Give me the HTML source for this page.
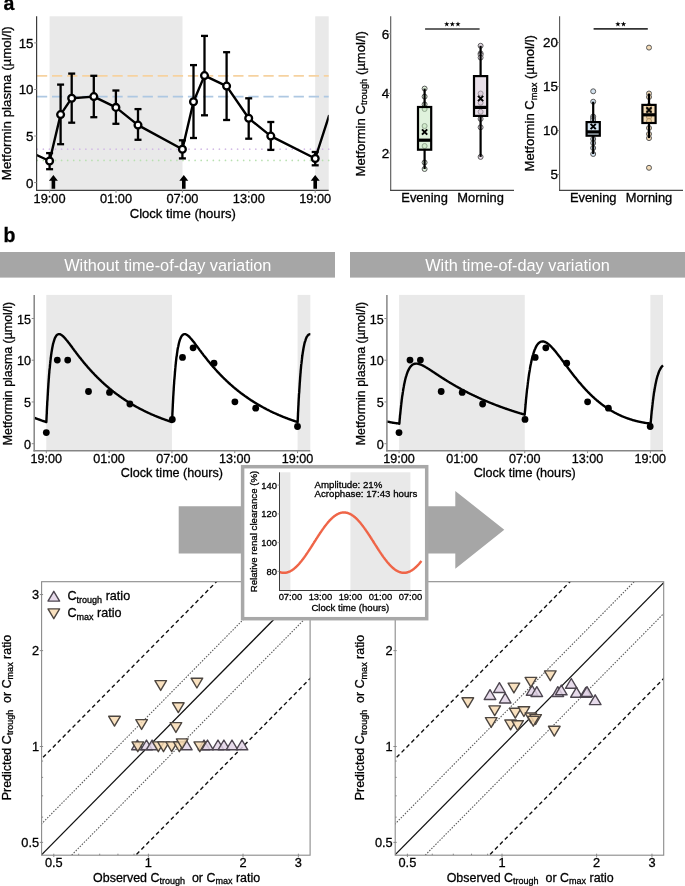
<!DOCTYPE html>
<html><head><meta charset="utf-8"><style>
html,body{margin:0;padding:0;background:#fff;overflow:hidden;}
svg{display:block;will-change:transform;}
text{font-family:"Liberation Sans",sans-serif;stroke:#000;stroke-width:0.3px;}
.w{stroke:none;}
</style></head><body>
<svg width="685" height="886" viewBox="0 0 685 886" font-family="Liberation Sans, sans-serif">
<text x="3.6" y="10" font-size="19.5" font-weight="bold">a</text>
<text x="3.6" y="241.6" font-size="19.5" font-weight="bold">b</text>
<rect x="49.60" y="16.30" width="132.90" height="174.00" fill="#e9e9e9" />
<rect x="315.20" y="16.30" width="13.50" height="174.00" fill="#e9e9e9" />
<line x1="36.60" y1="75.90" x2="328.70" y2="75.90" stroke="#f6d2a0" stroke-width="1.7" stroke-dasharray="10.3 4.8" stroke-dashoffset="-0.3"/>
<line x1="36.60" y1="96.60" x2="328.70" y2="96.60" stroke="#aec8e2" stroke-width="1.7" stroke-dasharray="10.3 4.8" stroke-dashoffset="-0.3"/>
<line x1="36.60" y1="149.20" x2="328.70" y2="149.20" stroke="#d3bce6" stroke-width="1.7" stroke-dasharray="0 6.07" stroke-dashoffset="-0.7" stroke-linecap="round"/>
<line x1="36.60" y1="160.40" x2="328.70" y2="160.40" stroke="#b8e0b0" stroke-width="1.7" stroke-dasharray="0 6.07" stroke-dashoffset="-0.7" stroke-linecap="round"/>
<clipPath id="ca"><rect x="36.6" y="16.3" width="292.09999999999997" height="174.0"/></clipPath>
<path d="M36.1,154.8 L49.6,161.0 L60.6,114.6 L71.7,98.2 L93.8,96.6 L115.9,107.4 L138.0,125.1 L182.4,149.2 L193.5,101.8 L204.5,75.6 L226.6,86.1 L248.7,118.3 L270.8,136.1 L315.2,158.5 L329.2,115.1" stroke="#000" stroke-width="2.4" fill="none" clip-path="url(#ca)" stroke-linejoin="round"/>
<line x1="49.60" y1="153.10" x2="49.60" y2="169.20" stroke="#000" stroke-width="2.3" />
<line x1="46.10" y1="153.10" x2="53.10" y2="153.10" stroke="#000" stroke-width="2.3" />
<line x1="46.10" y1="169.20" x2="53.10" y2="169.20" stroke="#000" stroke-width="2.3" />
<line x1="60.60" y1="84.60" x2="60.60" y2="144.20" stroke="#000" stroke-width="2.3" />
<line x1="57.10" y1="84.60" x2="64.10" y2="84.60" stroke="#000" stroke-width="2.3" />
<line x1="57.10" y1="144.20" x2="64.10" y2="144.20" stroke="#000" stroke-width="2.3" />
<line x1="71.70" y1="73.60" x2="71.70" y2="122.70" stroke="#000" stroke-width="2.3" />
<line x1="68.20" y1="73.60" x2="75.20" y2="73.60" stroke="#000" stroke-width="2.3" />
<line x1="68.20" y1="122.70" x2="75.20" y2="122.70" stroke="#000" stroke-width="2.3" />
<line x1="93.80" y1="75.80" x2="93.80" y2="117.20" stroke="#000" stroke-width="2.3" />
<line x1="90.30" y1="75.80" x2="97.30" y2="75.80" stroke="#000" stroke-width="2.3" />
<line x1="90.30" y1="117.20" x2="97.30" y2="117.20" stroke="#000" stroke-width="2.3" />
<line x1="115.90" y1="90.50" x2="115.90" y2="123.80" stroke="#000" stroke-width="2.3" />
<line x1="112.40" y1="90.50" x2="119.40" y2="90.50" stroke="#000" stroke-width="2.3" />
<line x1="112.40" y1="123.80" x2="119.40" y2="123.80" stroke="#000" stroke-width="2.3" />
<line x1="138.00" y1="109.10" x2="138.00" y2="139.80" stroke="#000" stroke-width="2.3" />
<line x1="134.50" y1="109.10" x2="141.50" y2="109.10" stroke="#000" stroke-width="2.3" />
<line x1="134.50" y1="139.80" x2="141.50" y2="139.80" stroke="#000" stroke-width="2.3" />
<line x1="182.40" y1="140.30" x2="182.40" y2="158.40" stroke="#000" stroke-width="2.3" />
<line x1="178.90" y1="140.30" x2="185.90" y2="140.30" stroke="#000" stroke-width="2.3" />
<line x1="178.90" y1="158.40" x2="185.90" y2="158.40" stroke="#000" stroke-width="2.3" />
<line x1="193.50" y1="65.10" x2="193.50" y2="138.00" stroke="#000" stroke-width="2.3" />
<line x1="190.00" y1="65.10" x2="197.00" y2="65.10" stroke="#000" stroke-width="2.3" />
<line x1="190.00" y1="138.00" x2="197.00" y2="138.00" stroke="#000" stroke-width="2.3" />
<line x1="204.50" y1="35.90" x2="204.50" y2="115.30" stroke="#000" stroke-width="2.3" />
<line x1="201.00" y1="35.90" x2="208.00" y2="35.90" stroke="#000" stroke-width="2.3" />
<line x1="201.00" y1="115.30" x2="208.00" y2="115.30" stroke="#000" stroke-width="2.3" />
<line x1="226.60" y1="52.20" x2="226.60" y2="120.00" stroke="#000" stroke-width="2.3" />
<line x1="223.10" y1="52.20" x2="230.10" y2="52.20" stroke="#000" stroke-width="2.3" />
<line x1="223.10" y1="120.00" x2="230.10" y2="120.00" stroke="#000" stroke-width="2.3" />
<line x1="248.70" y1="98.30" x2="248.70" y2="138.70" stroke="#000" stroke-width="2.3" />
<line x1="245.20" y1="98.30" x2="252.20" y2="98.30" stroke="#000" stroke-width="2.3" />
<line x1="245.20" y1="138.70" x2="252.20" y2="138.70" stroke="#000" stroke-width="2.3" />
<line x1="270.80" y1="122.00" x2="270.80" y2="149.90" stroke="#000" stroke-width="2.3" />
<line x1="267.30" y1="122.00" x2="274.30" y2="122.00" stroke="#000" stroke-width="2.3" />
<line x1="267.30" y1="149.90" x2="274.30" y2="149.90" stroke="#000" stroke-width="2.3" />
<line x1="315.20" y1="152.00" x2="315.20" y2="165.30" stroke="#000" stroke-width="2.3" />
<line x1="311.70" y1="152.00" x2="318.70" y2="152.00" stroke="#000" stroke-width="2.3" />
<line x1="311.70" y1="165.30" x2="318.70" y2="165.30" stroke="#000" stroke-width="2.3" />
<circle cx="49.6" cy="161.0" r="3.4" fill="#fff" stroke="#000" stroke-width="2.3"/>
<circle cx="60.6" cy="114.6" r="3.4" fill="#fff" stroke="#000" stroke-width="2.3"/>
<circle cx="71.7" cy="98.2" r="3.4" fill="#fff" stroke="#000" stroke-width="2.3"/>
<circle cx="93.8" cy="96.6" r="3.4" fill="#fff" stroke="#000" stroke-width="2.3"/>
<circle cx="115.9" cy="107.4" r="3.4" fill="#fff" stroke="#000" stroke-width="2.3"/>
<circle cx="138.0" cy="125.1" r="3.4" fill="#fff" stroke="#000" stroke-width="2.3"/>
<circle cx="182.4" cy="149.2" r="3.4" fill="#fff" stroke="#000" stroke-width="2.3"/>
<circle cx="193.5" cy="101.8" r="3.4" fill="#fff" stroke="#000" stroke-width="2.3"/>
<circle cx="204.5" cy="75.6" r="3.4" fill="#fff" stroke="#000" stroke-width="2.3"/>
<circle cx="226.6" cy="86.1" r="3.4" fill="#fff" stroke="#000" stroke-width="2.3"/>
<circle cx="248.7" cy="118.3" r="3.4" fill="#fff" stroke="#000" stroke-width="2.3"/>
<circle cx="270.8" cy="136.1" r="3.4" fill="#fff" stroke="#000" stroke-width="2.3"/>
<circle cx="315.2" cy="158.5" r="3.4" fill="#fff" stroke="#000" stroke-width="2.3"/>
<path d="M48.9,180.8 L53.4,174.9 L57.9,180.8 L55.199999999999996,180.8 L55.199999999999996,188.8 L51.6,188.8 L51.6,180.8 Z" stroke="none" stroke-width="0" fill="#000" />
<path d="M179.3,180.8 L183.8,174.9 L188.3,180.8 L185.60000000000002,180.8 L185.60000000000002,188.8 L182.0,188.8 L182.0,180.8 Z" stroke="none" stroke-width="0" fill="#000" />
<path d="M310.7,180.8 L315.2,174.9 L319.7,180.8 L317.0,180.8 L317.0,188.8 L313.4,188.8 L313.4,180.8 Z" stroke="none" stroke-width="0" fill="#000" />
<line x1="36.60" y1="16.30" x2="36.60" y2="190.80" stroke="#3c3c3c" stroke-width="1.2" />
<line x1="36.10" y1="190.30" x2="328.70" y2="190.30" stroke="#3c3c3c" stroke-width="1.2" />
<line x1="34.10" y1="182.60" x2="36.60" y2="182.60" stroke="#8a8a8a" stroke-width="1" />
<text x="33.50" y="187.60" font-size="13.3" text-anchor="end" fill="#000" >0</text>
<line x1="34.10" y1="136.03" x2="36.60" y2="136.03" stroke="#8a8a8a" stroke-width="1" />
<text x="33.50" y="141.03" font-size="13.3" text-anchor="end" fill="#000" >5</text>
<line x1="34.10" y1="89.47" x2="36.60" y2="89.47" stroke="#8a8a8a" stroke-width="1" />
<text x="33.50" y="94.47" font-size="13.3" text-anchor="end" fill="#000" >10</text>
<line x1="34.10" y1="42.90" x2="36.60" y2="42.90" stroke="#8a8a8a" stroke-width="1" />
<text x="33.50" y="47.90" font-size="13.3" text-anchor="end" fill="#000" >15</text>
<line x1="49.60" y1="190.30" x2="49.60" y2="192.80" stroke="#8a8a8a" stroke-width="1" />
<text x="49.60" y="202.50" font-size="12.8" text-anchor="middle" fill="#000" >19:00</text>
<line x1="116.00" y1="190.30" x2="116.00" y2="192.80" stroke="#8a8a8a" stroke-width="1" />
<text x="116.00" y="202.50" font-size="12.8" text-anchor="middle" fill="#000" >01:00</text>
<line x1="182.40" y1="190.30" x2="182.40" y2="192.80" stroke="#8a8a8a" stroke-width="1" />
<text x="182.40" y="202.50" font-size="12.8" text-anchor="middle" fill="#000" >07:00</text>
<line x1="248.80" y1="190.30" x2="248.80" y2="192.80" stroke="#8a8a8a" stroke-width="1" />
<text x="248.80" y="202.50" font-size="12.8" text-anchor="middle" fill="#000" >13:00</text>
<line x1="315.20" y1="190.30" x2="315.20" y2="192.80" stroke="#8a8a8a" stroke-width="1" />
<text x="315.20" y="202.50" font-size="12.8" text-anchor="middle" fill="#000" >19:00</text>
<text x="182.80" y="218.00" font-size="13.1" text-anchor="middle" fill="#000" >Clock time (hours)</text>
<text transform="translate(11.40,103.20) rotate(-90)" font-size="13.3" text-anchor="middle" fill="#000">Metformin plasma (µmol/l)</text>
<circle cx="424.6" cy="88.6" r="2.5" fill="#dff1dc" stroke="#5a5a5a" stroke-width="1.0"/>
<circle cx="424.6" cy="96.6" r="2.5" fill="#dff1dc" stroke="#5a5a5a" stroke-width="1.0"/>
<circle cx="424.6" cy="104.4" r="2.5" fill="#dff1dc" stroke="#5a5a5a" stroke-width="1.0"/>
<circle cx="424.6" cy="109" r="2.5" fill="#dff1dc" stroke="#5a5a5a" stroke-width="1.0"/>
<circle cx="424.6" cy="126" r="2.5" fill="#dff1dc" stroke="#5a5a5a" stroke-width="1.0"/>
<circle cx="424.6" cy="146" r="2.5" fill="#dff1dc" stroke="#5a5a5a" stroke-width="1.0"/>
<circle cx="424.6" cy="162.5" r="2.5" fill="#dff1dc" stroke="#5a5a5a" stroke-width="1.0"/>
<circle cx="424.6" cy="169" r="2.5" fill="#dff1dc" stroke="#5a5a5a" stroke-width="1.0"/>
<line x1="424.60" y1="88.60" x2="424.60" y2="107.00" stroke="#000" stroke-width="2.2" />
<line x1="424.60" y1="149.70" x2="424.60" y2="169.00" stroke="#000" stroke-width="2.2" />
<rect x="418.00" y="107.00" width="13.20" height="42.70" fill="#c5e7bf" fill-opacity="0.55" stroke="#000" stroke-width="2.2"/>
<line x1="418.00" y1="140.20" x2="431.20" y2="140.20" stroke="#000" stroke-width="3.2" />
<path d="M422.0,129.4 L427.20000000000005,134.6 M422.0,134.6 L427.20000000000005,129.4" stroke="#000" stroke-width="2.0" fill="none" />
<circle cx="480.6" cy="45.8" r="2.5" fill="#e8dde8" stroke="#5a5a5a" stroke-width="1.0"/>
<circle cx="480.6" cy="53.4" r="2.5" fill="#e8dde8" stroke="#5a5a5a" stroke-width="1.0"/>
<circle cx="480.6" cy="54.8" r="2.5" fill="#e8dde8" stroke="#5a5a5a" stroke-width="1.0"/>
<circle cx="480.6" cy="57.6" r="2.5" fill="#e8dde8" stroke="#5a5a5a" stroke-width="1.0"/>
<circle cx="480.6" cy="93.5" r="2.5" fill="#e8dde8" stroke="#5a5a5a" stroke-width="1.0"/>
<circle cx="480.6" cy="102.7" r="2.5" fill="#e8dde8" stroke="#5a5a5a" stroke-width="1.0"/>
<circle cx="480.6" cy="111.8" r="2.5" fill="#e8dde8" stroke="#5a5a5a" stroke-width="1.0"/>
<circle cx="480.6" cy="118.9" r="2.5" fill="#e8dde8" stroke="#5a5a5a" stroke-width="1.0"/>
<circle cx="480.6" cy="127.3" r="2.5" fill="#e8dde8" stroke="#5a5a5a" stroke-width="1.0"/>
<circle cx="480.6" cy="156.9" r="2.5" fill="#e8dde8" stroke="#5a5a5a" stroke-width="1.0"/>
<line x1="480.60" y1="45.80" x2="480.60" y2="76.10" stroke="#000" stroke-width="2.2" />
<line x1="480.60" y1="115.90" x2="480.60" y2="156.90" stroke="#000" stroke-width="2.2" />
<rect x="474.00" y="76.10" width="13.20" height="39.80" fill="#d5c5d5" fill-opacity="0.55" stroke="#000" stroke-width="2.2"/>
<line x1="474.00" y1="107.40" x2="487.20" y2="107.40" stroke="#000" stroke-width="3.2" />
<path d="M478.0,95.9 L483.20000000000005,101.1 M478.0,101.1 L483.20000000000005,95.9" stroke="#000" stroke-width="2.0" fill="none" />
<line x1="390.70" y1="16.30" x2="390.70" y2="190.90" stroke="#555" stroke-width="1.1" />
<line x1="390.20" y1="190.40" x2="514.00" y2="190.40" stroke="#444" stroke-width="1.1" />
<line x1="388.20" y1="153.00" x2="390.70" y2="153.00" stroke="#8a8a8a" stroke-width="1" />
<text x="389.10" y="157.80" font-size="13.4" text-anchor="end" fill="#000" >2</text>
<line x1="388.20" y1="93.40" x2="390.70" y2="93.40" stroke="#8a8a8a" stroke-width="1" />
<text x="389.10" y="98.20" font-size="13.4" text-anchor="end" fill="#000" >4</text>
<line x1="388.20" y1="33.80" x2="390.70" y2="33.80" stroke="#8a8a8a" stroke-width="1" />
<text x="389.10" y="38.60" font-size="13.4" text-anchor="end" fill="#000" >6</text>
<line x1="425.10" y1="29.00" x2="479.60" y2="29.00" stroke="#333" stroke-width="1.6" />
<path d="M446.8,21.4 L447.4,23.3 L449.4,23.3 L447.8,24.6 L448.4,26.5 L446.8,25.3 L445.1,26.5 L445.7,24.6 L444.1,23.3 L446.1,23.3Z" stroke="none" stroke-width="0" fill="#000" />
<path d="M452.4,21.4 L453.0,23.3 L455.0,23.3 L453.4,24.6 L454.0,26.5 L452.4,25.3 L450.7,26.5 L451.3,24.6 L449.7,23.3 L451.7,23.3Z" stroke="none" stroke-width="0" fill="#000" />
<path d="M458.0,21.4 L458.6,23.3 L460.6,23.3 L459.0,24.6 L459.6,26.5 L458.0,25.3 L456.3,26.5 L456.9,24.6 L455.3,23.3 L457.3,23.3Z" stroke="none" stroke-width="0" fill="#000" />
<circle cx="593.2" cy="91.3" r="2.5" fill="#d3e2ef" stroke="#5a5a5a" stroke-width="1.0"/>
<circle cx="593.2" cy="101.7" r="2.5" fill="#d3e2ef" stroke="#5a5a5a" stroke-width="1.0"/>
<circle cx="593.2" cy="116.5" r="2.5" fill="#d3e2ef" stroke="#5a5a5a" stroke-width="1.0"/>
<circle cx="593.2" cy="118" r="2.5" fill="#d3e2ef" stroke="#5a5a5a" stroke-width="1.0"/>
<circle cx="593.2" cy="120" r="2.5" fill="#d3e2ef" stroke="#5a5a5a" stroke-width="1.0"/>
<circle cx="593.2" cy="139" r="2.5" fill="#d3e2ef" stroke="#5a5a5a" stroke-width="1.0"/>
<circle cx="593.2" cy="143" r="2.5" fill="#d3e2ef" stroke="#5a5a5a" stroke-width="1.0"/>
<circle cx="593.2" cy="148" r="2.5" fill="#d3e2ef" stroke="#5a5a5a" stroke-width="1.0"/>
<circle cx="593.2" cy="154" r="2.5" fill="#d3e2ef" stroke="#5a5a5a" stroke-width="1.0"/>
<line x1="593.20" y1="101.70" x2="593.20" y2="122.10" stroke="#000" stroke-width="2.2" />
<line x1="593.20" y1="135.70" x2="593.20" y2="154.00" stroke="#000" stroke-width="2.2" />
<rect x="586.60" y="122.10" width="13.20" height="13.60" fill="#b3d0e7" fill-opacity="0.55" stroke="#000" stroke-width="2.2"/>
<line x1="586.60" y1="131.90" x2="599.80" y2="131.90" stroke="#000" stroke-width="3.2" />
<path d="M590.6,123.9 L595.8000000000001,129.1 M590.6,129.1 L595.8000000000001,123.9" stroke="#000" stroke-width="2.0" fill="none" />
<circle cx="649" cy="47.6" r="2.5" fill="#f4dcb8" stroke="#5a5a5a" stroke-width="1.0"/>
<circle cx="649" cy="93.5" r="2.5" fill="#f4dcb8" stroke="#5a5a5a" stroke-width="1.0"/>
<circle cx="649" cy="97" r="2.5" fill="#f4dcb8" stroke="#5a5a5a" stroke-width="1.0"/>
<circle cx="649" cy="106" r="2.5" fill="#f4dcb8" stroke="#5a5a5a" stroke-width="1.0"/>
<circle cx="649" cy="110" r="2.5" fill="#f4dcb8" stroke="#5a5a5a" stroke-width="1.0"/>
<circle cx="649" cy="117" r="2.5" fill="#f4dcb8" stroke="#5a5a5a" stroke-width="1.0"/>
<circle cx="649" cy="121" r="2.5" fill="#f4dcb8" stroke="#5a5a5a" stroke-width="1.0"/>
<circle cx="649" cy="128" r="2.5" fill="#f4dcb8" stroke="#5a5a5a" stroke-width="1.0"/>
<circle cx="649" cy="134" r="2.5" fill="#f4dcb8" stroke="#5a5a5a" stroke-width="1.0"/>
<circle cx="649" cy="138.1" r="2.5" fill="#f4dcb8" stroke="#5a5a5a" stroke-width="1.0"/>
<circle cx="649" cy="167.8" r="2.5" fill="#f4dcb8" stroke="#5a5a5a" stroke-width="1.0"/>
<line x1="649.00" y1="93.50" x2="649.00" y2="104.90" stroke="#000" stroke-width="2.2" />
<line x1="649.00" y1="123.00" x2="649.00" y2="138.10" stroke="#000" stroke-width="2.2" />
<rect x="642.40" y="104.90" width="13.20" height="18.10" fill="#e9bf7e" fill-opacity="0.55" stroke="#000" stroke-width="2.2"/>
<line x1="642.40" y1="114.80" x2="655.60" y2="114.80" stroke="#000" stroke-width="3.2" />
<path d="M646.4,107.4 L651.6,112.6 M646.4,112.6 L651.6,107.4" stroke="#000" stroke-width="2.0" fill="none" />
<line x1="559.60" y1="16.30" x2="559.60" y2="190.90" stroke="#555" stroke-width="1.1" />
<line x1="559.10" y1="190.40" x2="683.00" y2="190.40" stroke="#444" stroke-width="1.1" />
<line x1="557.10" y1="174.60" x2="559.60" y2="174.60" stroke="#8a8a8a" stroke-width="1" />
<text x="558.00" y="179.40" font-size="13.4" text-anchor="end" fill="#000" >5</text>
<line x1="557.10" y1="130.60" x2="559.60" y2="130.60" stroke="#8a8a8a" stroke-width="1" />
<text x="558.00" y="135.40" font-size="13.4" text-anchor="end" fill="#000" >10</text>
<line x1="557.10" y1="86.60" x2="559.60" y2="86.60" stroke="#8a8a8a" stroke-width="1" />
<text x="558.00" y="91.40" font-size="13.4" text-anchor="end" fill="#000" >15</text>
<line x1="557.10" y1="42.60" x2="559.60" y2="42.60" stroke="#8a8a8a" stroke-width="1" />
<text x="558.00" y="47.40" font-size="13.4" text-anchor="end" fill="#000" >20</text>
<line x1="593.60" y1="28.90" x2="647.80" y2="28.90" stroke="#333" stroke-width="1.6" />
<path d="M617.9,21.4 L618.6,23.3 L620.6,23.3 L619.0,24.6 L619.5,26.5 L617.9,25.3 L616.3,26.5 L616.8,24.6 L615.2,23.3 L617.2,23.3Z" stroke="none" stroke-width="0" fill="#000" />
<path d="M623.5,21.4 L624.2,23.3 L626.2,23.3 L624.6,24.6 L625.1,26.5 L623.5,25.3 L621.9,26.5 L622.4,24.6 L620.8,23.3 L622.8,23.3Z" stroke="none" stroke-width="0" fill="#000" />
<text x="424.60" y="202.00" font-size="12.9" text-anchor="middle" fill="#000" >Evening</text>
<text x="480.60" y="202.00" font-size="12.9" text-anchor="middle" fill="#000" >Morning</text>
<text x="593.20" y="202.00" font-size="12.9" text-anchor="middle" fill="#000" >Evening</text>
<text x="649.00" y="202.00" font-size="12.9" text-anchor="middle" fill="#000" >Morning</text>
<text transform="translate(364.6,103.8) rotate(-90)" font-size="13.1" text-anchor="middle">Metformin C<tspan font-size="9.3" dy="2.8">trough</tspan><tspan dy="-2.8"> (µmol/l)</tspan></text>
<text transform="translate(533.9,103.3) rotate(-90)" font-size="13.1" text-anchor="middle">Metformin C<tspan font-size="9.3" dy="2.8">max</tspan><tspan dy="-2.8"> (µmol/l)</tspan></text>
<rect x="0.00" y="252.00" width="335.00" height="25.60" fill="#a6a6a6" />
<rect x="350.00" y="252.00" width="335.00" height="25.60" fill="#a6a6a6" />
<text x="167.80" y="270.90" font-size="16.3" text-anchor="middle" fill="#fff" class="w">Without time-of-day variation</text>
<text x="517.50" y="270.90" font-size="16.3" text-anchor="middle" fill="#fff" class="w">With time-of-day variation</text>
<rect x="46.30" y="294.90" width="125.64" height="155.80" fill="#e9e9e9" />
<rect x="297.58" y="294.90" width="12.72" height="155.80" fill="#e9e9e9" />
<path d="M34.2,417.8 L34.6,417.9 L35.0,418.1 L35.5,418.2 L35.9,418.4 L36.3,418.6 L36.7,418.7 L37.1,418.9 L37.6,419.0 L38.0,419.2 L38.4,419.3 L38.8,419.5 L39.2,419.6 L39.6,419.8 L40.1,419.9 L40.5,420.1 L40.9,420.2 L41.3,420.4 L41.7,420.5 L42.2,420.7 L42.6,420.8 L43.0,421.0 L43.4,421.1 L43.8,421.3 L44.3,421.4 L44.7,421.5 L45.1,421.7 L45.5,421.8 L45.9,421.9 L46.3,422.1 L46.3,422.1 L46.4,421.3 L46.5,418.9 L46.6,416.6 L46.7,414.3 L46.8,413.3 L46.8,412.0 L46.9,409.9 L47.0,407.7 L47.1,405.6 L47.2,404.8 L47.2,403.6 L47.3,401.6 L47.5,399.7 L47.6,397.8 L47.6,397.0 L47.7,396.0 L47.8,394.2 L47.9,392.4 L48.0,390.7 L48.0,390.0 L48.1,389.0 L48.2,387.4 L48.3,385.8 L48.4,384.3 L48.4,383.6 L48.5,382.8 L48.6,381.3 L48.7,379.9 L48.8,378.5 L48.9,377.9 L48.9,377.1 L49.0,375.8 L49.1,374.5 L49.2,373.2 L49.3,372.7 L49.3,372.0 L49.4,370.8 L49.5,369.6 L49.7,368.5 L49.7,368.0 L49.8,367.4 L49.9,366.3 L50.0,365.2 L50.1,364.2 L50.1,363.8 L50.2,363.2 L50.3,362.2 L50.4,361.3 L50.5,360.4 L50.5,360.0 L50.6,359.5 L50.7,358.6 L50.8,357.7 L50.9,356.9 L51.0,356.5 L51.0,356.1 L51.1,355.3 L51.2,354.5 L51.3,353.8 L51.4,353.5 L51.4,353.1 L51.8,350.8 L52.2,348.3 L52.6,346.2 L53.0,344.2 L53.5,342.5 L53.9,341.1 L54.3,339.8 L54.7,338.6 L55.1,337.7 L55.6,336.8 L56.0,336.2 L56.4,335.6 L56.8,335.1 L57.2,334.8 L57.7,334.5 L58.1,334.3 L58.5,334.2 L58.9,334.1 L59.3,334.1 L59.7,334.2 L60.2,334.3 L60.6,334.5 L61.0,334.7 L61.4,335.0 L61.8,335.3 L62.3,335.6 L62.7,335.9 L63.1,336.3 L63.5,336.7 L63.9,337.1 L64.4,337.6 L64.8,338.0 L65.2,338.5 L65.6,339.0 L66.0,339.5 L66.4,340.0 L66.9,340.5 L67.3,341.0 L67.7,341.5 L68.1,342.1 L68.5,342.6 L69.0,343.1 L69.4,343.7 L69.8,344.3 L70.2,344.8 L70.6,345.4 L71.1,345.9 L71.5,346.5 L71.9,347.1 L72.3,347.6 L72.7,348.2 L73.1,348.7 L73.6,349.3 L74.0,349.9 L74.4,350.4 L74.8,351.0 L75.2,351.5 L75.7,352.1 L76.1,352.7 L76.5,353.2 L76.9,353.8 L77.3,354.3 L77.8,354.9 L78.2,355.4 L78.6,355.9 L79.0,356.5 L79.4,357.0 L79.8,357.6 L80.3,358.1 L80.7,358.6 L81.1,359.1 L81.5,359.7 L81.9,360.2 L82.4,360.7 L82.8,361.2 L83.2,361.7 L83.6,362.2 L84.0,362.8 L84.5,363.3 L84.9,363.8 L85.3,364.3 L85.7,364.8 L86.1,365.2 L86.6,365.7 L87.0,366.2 L87.4,366.7 L87.8,367.2 L88.2,367.7 L88.6,368.1 L89.1,368.6 L89.5,369.1 L89.9,369.5 L90.3,370.0 L90.7,370.5 L91.2,370.9 L91.6,371.4 L92.0,371.8 L92.4,372.3 L92.8,372.7 L93.3,373.2 L93.7,373.6 L94.1,374.1 L94.5,374.5 L94.9,374.9 L95.3,375.4 L95.8,375.8 L96.2,376.2 L96.6,376.6 L97.0,377.1 L97.4,377.5 L97.9,377.9 L98.3,378.3 L98.7,378.7 L99.1,379.1 L99.5,379.5 L100.0,379.9 L100.4,380.3 L100.8,380.7 L101.2,381.1 L101.6,381.5 L102.0,381.9 L102.5,382.3 L102.9,382.7 L103.3,383.1 L103.7,383.4 L104.1,383.8 L104.6,384.2 L105.0,384.6 L105.4,384.9 L105.8,385.3 L106.2,385.7 L106.7,386.0 L107.1,386.4 L107.5,386.8 L107.9,387.1 L108.3,387.5 L108.7,387.8 L109.2,388.2 L109.6,388.5 L110.0,388.9 L110.4,389.2 L110.8,389.5 L111.3,389.9 L111.7,390.2 L112.1,390.6 L112.5,390.9 L112.9,391.2 L113.4,391.6 L113.8,391.9 L114.2,392.2 L114.6,392.5 L115.0,392.9 L115.4,393.2 L115.9,393.5 L116.3,393.8 L116.7,394.1 L117.1,394.4 L117.5,394.7 L118.0,395.0 L118.4,395.3 L118.8,395.6 L119.2,396.0 L119.6,396.3 L120.1,396.5 L120.5,396.8 L120.9,397.1 L121.3,397.4 L121.7,397.7 L122.1,398.0 L122.6,398.3 L123.0,398.6 L123.4,398.9 L123.8,399.1 L124.2,399.4 L124.7,399.7 L125.1,400.0 L125.5,400.3 L125.9,400.5 L126.3,400.8 L126.8,401.1 L127.2,401.3 L127.6,401.6 L128.0,401.9 L128.4,402.1 L128.8,402.4 L129.3,402.6 L129.7,402.9 L130.1,403.2 L130.5,403.4 L130.9,403.7 L131.4,403.9 L131.8,404.2 L132.2,404.4 L132.6,404.7 L133.0,404.9 L133.5,405.1 L133.9,405.4 L134.3,405.6 L134.7,405.9 L135.1,406.1 L135.5,406.3 L136.0,406.6 L136.4,406.8 L136.8,407.0 L137.2,407.3 L137.6,407.5 L138.1,407.7 L138.5,407.9 L138.9,408.2 L139.3,408.4 L139.7,408.6 L140.2,408.8 L140.6,409.1 L141.0,409.3 L141.4,409.5 L141.8,409.7 L142.3,409.9 L142.7,410.1 L143.1,410.3 L143.5,410.5 L143.9,410.8 L144.3,411.0 L144.8,411.2 L145.2,411.4 L145.6,411.6 L146.0,411.8 L146.4,412.0 L146.9,412.2 L147.3,412.4 L147.7,412.6 L148.1,412.8 L148.5,413.0 L149.0,413.2 L149.4,413.3 L149.8,413.5 L150.2,413.7 L150.6,413.9 L151.0,414.1 L151.5,414.3 L151.9,414.5 L152.3,414.7 L152.7,414.8 L153.1,415.0 L153.6,415.2 L154.0,415.4 L154.4,415.5 L154.8,415.7 L155.2,415.9 L155.7,416.1 L156.1,416.2 L156.5,416.4 L156.9,416.6 L157.3,416.8 L157.7,416.9 L158.2,417.1 L158.6,417.3 L159.0,417.4 L159.4,417.6 L159.8,417.8 L160.3,417.9 L160.7,418.1 L161.1,418.2 L161.5,418.4 L161.9,418.6 L162.4,418.7 L162.8,418.9 L163.2,419.0 L163.6,419.2 L164.0,419.3 L164.4,419.5 L164.9,419.6 L165.3,419.8 L165.7,419.9 L166.1,420.1 L166.5,420.2 L167.0,420.4 L167.4,420.5 L167.8,420.7 L168.2,420.8 L168.6,421.0 L169.1,421.1 L169.5,421.3 L169.9,421.4 L170.3,421.5 L170.7,421.7 L171.1,421.8 L171.6,421.9 L171.9,422.1 L172.0,422.1 L172.0,421.3 L172.1,418.9 L172.3,416.6 L172.4,414.3 L172.4,413.3 L172.5,412.0 L172.6,409.9 L172.7,407.7 L172.8,405.6 L172.8,404.8 L172.9,403.6 L173.0,401.6 L173.1,399.7 L173.2,397.8 L173.2,397.0 L173.3,396.0 L173.4,394.2 L173.5,392.4 L173.6,390.7 L173.7,390.0 L173.7,389.0 L173.8,387.4 L173.9,385.8 L174.0,384.3 L174.1,383.6 L174.1,382.8 L174.2,381.3 L174.3,379.9 L174.5,378.5 L174.5,377.9 L174.6,377.1 L174.7,375.8 L174.8,374.5 L174.9,373.2 L174.9,372.7 L175.0,372.0 L175.1,370.8 L175.2,369.6 L175.3,368.5 L175.3,368.0 L175.4,367.4 L175.5,366.3 L175.6,365.2 L175.7,364.2 L175.8,363.8 L175.8,363.2 L175.9,362.2 L176.0,361.3 L176.1,360.4 L176.2,360.0 L176.2,359.5 L176.3,358.6 L176.4,357.7 L176.5,356.9 L176.6,356.5 L176.7,356.1 L176.8,355.3 L176.9,354.5 L177.0,353.8 L177.0,353.5 L177.1,353.1 L177.4,350.8 L177.8,348.3 L178.3,346.2 L178.7,344.2 L179.1,342.5 L179.5,341.1 L179.9,339.8 L180.4,338.6 L180.8,337.7 L181.2,336.8 L181.6,336.2 L182.0,335.6 L182.5,335.1 L182.9,334.8 L183.3,334.5 L183.7,334.3 L184.1,334.2 L184.5,334.1 L185.0,334.1 L185.4,334.2 L185.8,334.3 L186.2,334.5 L186.6,334.7 L187.1,335.0 L187.5,335.3 L187.9,335.6 L188.3,335.9 L188.7,336.3 L189.2,336.7 L189.6,337.1 L190.0,337.6 L190.4,338.0 L190.8,338.5 L191.3,339.0 L191.7,339.5 L192.1,340.0 L192.5,340.5 L192.9,341.0 L193.3,341.5 L193.8,342.1 L194.2,342.6 L194.6,343.1 L195.0,343.7 L195.4,344.3 L195.9,344.8 L196.3,345.4 L196.7,345.9 L197.1,346.5 L197.5,347.1 L198.0,347.6 L198.4,348.2 L198.8,348.7 L199.2,349.3 L199.6,349.9 L200.0,350.4 L200.5,351.0 L200.9,351.5 L201.3,352.1 L201.7,352.7 L202.1,353.2 L202.6,353.8 L203.0,354.3 L203.4,354.9 L203.8,355.4 L204.2,355.9 L204.7,356.5 L205.1,357.0 L205.5,357.6 L205.9,358.1 L206.3,358.6 L206.7,359.1 L207.2,359.7 L207.6,360.2 L208.0,360.7 L208.4,361.2 L208.8,361.7 L209.3,362.2 L209.7,362.8 L210.1,363.3 L210.5,363.8 L210.9,364.3 L211.4,364.8 L211.8,365.2 L212.2,365.7 L212.6,366.2 L213.0,366.7 L213.4,367.2 L213.9,367.7 L214.3,368.1 L214.7,368.6 L215.1,369.1 L215.5,369.5 L216.0,370.0 L216.4,370.5 L216.8,370.9 L217.2,371.4 L217.6,371.8 L218.1,372.3 L218.5,372.7 L218.9,373.2 L219.3,373.6 L219.7,374.1 L220.1,374.5 L220.6,374.9 L221.0,375.4 L221.4,375.8 L221.8,376.2 L222.2,376.6 L222.7,377.1 L223.1,377.5 L223.5,377.9 L223.9,378.3 L224.3,378.7 L224.8,379.1 L225.2,379.5 L225.6,379.9 L226.0,380.3 L226.4,380.7 L226.8,381.1 L227.3,381.5 L227.7,381.9 L228.1,382.3 L228.5,382.7 L228.9,383.1 L229.4,383.4 L229.8,383.8 L230.2,384.2 L230.6,384.6 L231.0,384.9 L231.5,385.3 L231.9,385.7 L232.3,386.0 L232.7,386.4 L233.1,386.8 L233.5,387.1 L234.0,387.5 L234.4,387.8 L234.8,388.2 L235.2,388.5 L235.6,388.9 L236.1,389.2 L236.5,389.5 L236.9,389.9 L237.3,390.2 L237.7,390.6 L238.2,390.9 L238.6,391.2 L239.0,391.6 L239.4,391.9 L239.8,392.2 L240.2,392.5 L240.7,392.9 L241.1,393.2 L241.5,393.5 L241.9,393.8 L242.3,394.1 L242.8,394.4 L243.2,394.7 L243.6,395.0 L244.0,395.3 L244.4,395.6 L244.9,396.0 L245.3,396.3 L245.7,396.5 L246.1,396.8 L246.5,397.1 L247.0,397.4 L247.4,397.7 L247.8,398.0 L248.2,398.3 L248.6,398.6 L249.0,398.9 L249.5,399.1 L249.9,399.4 L250.3,399.7 L250.7,400.0 L251.1,400.3 L251.6,400.5 L252.0,400.8 L252.4,401.1 L252.8,401.3 L253.2,401.6 L253.7,401.9 L254.1,402.1 L254.5,402.4 L254.9,402.6 L255.3,402.9 L255.7,403.2 L256.2,403.4 L256.6,403.7 L257.0,403.9 L257.4,404.2 L257.8,404.4 L258.3,404.7 L258.7,404.9 L259.1,405.1 L259.5,405.4 L259.9,405.6 L260.4,405.9 L260.8,406.1 L261.2,406.3 L261.6,406.6 L262.0,406.8 L262.4,407.0 L262.9,407.3 L263.3,407.5 L263.7,407.7 L264.1,407.9 L264.5,408.2 L265.0,408.4 L265.4,408.6 L265.8,408.8 L266.2,409.1 L266.6,409.3 L267.1,409.5 L267.5,409.7 L267.9,409.9 L268.3,410.1 L268.7,410.3 L269.1,410.5 L269.6,410.8 L270.0,411.0 L270.4,411.2 L270.8,411.4 L271.2,411.6 L271.7,411.8 L272.1,412.0 L272.5,412.2 L272.9,412.4 L273.3,412.6 L273.8,412.8 L274.2,413.0 L274.6,413.2 L275.0,413.3 L275.4,413.5 L275.8,413.7 L276.3,413.9 L276.7,414.1 L277.1,414.3 L277.5,414.5 L277.9,414.7 L278.4,414.8 L278.8,415.0 L279.2,415.2 L279.6,415.4 L280.0,415.5 L280.5,415.7 L280.9,415.9 L281.3,416.1 L281.7,416.2 L282.1,416.4 L282.5,416.6 L283.0,416.8 L283.4,416.9 L283.8,417.1 L284.2,417.3 L284.6,417.4 L285.1,417.6 L285.5,417.8 L285.9,417.9 L286.3,418.1 L286.7,418.2 L287.2,418.4 L287.6,418.6 L288.0,418.7 L288.4,418.9 L288.8,419.0 L289.2,419.2 L289.7,419.3 L290.1,419.5 L290.5,419.6 L290.9,419.8 L291.3,419.9 L291.8,420.1 L292.2,420.2 L292.6,420.4 L293.0,420.5 L293.4,420.7 L293.9,420.8 L294.3,421.0 L294.7,421.1 L295.1,421.3 L295.5,421.4 L296.0,421.5 L296.4,421.7 L296.8,421.8 L297.2,421.9 L297.6,422.1 L297.6,422.1 L297.7,421.3 L297.8,418.9 L297.9,416.6 L298.0,414.3 L298.0,413.3 L298.1,412.0 L298.2,409.9 L298.3,407.7 L298.4,405.6 L298.5,404.8 L298.5,403.6 L298.6,401.6 L298.7,399.7 L298.8,397.8 L298.9,397.0 L298.9,396.0 L299.0,394.2 L299.2,392.4 L299.3,390.7 L299.3,390.0 L299.4,389.0 L299.5,387.4 L299.6,385.8 L299.7,384.3 L299.7,383.6 L299.8,382.8 L299.9,381.3 L300.0,379.9 L300.1,378.5 L300.1,377.9 L300.2,377.1 L300.3,375.8 L300.4,374.5 L300.5,373.2 L300.6,372.7 L300.6,372.0 L300.7,370.8 L300.8,369.6 L300.9,368.5 L301.0,368.0 L301.0,367.4 L301.1,366.3 L301.2,365.2 L301.3,364.2 L301.4,363.8 L301.5,363.2 L301.6,362.2 L301.7,361.3 L301.8,360.4 L301.8,360.0 L301.9,359.5 L302.0,358.6 L302.1,357.7 L302.2,356.9 L302.2,356.5 L302.3,356.1 L302.4,355.3 L302.5,354.5 L302.6,353.8 L302.7,353.5 L302.7,353.1 L303.1,350.8 L303.5,348.3 L303.9,346.2 L304.3,344.2 L304.7,342.5 L305.2,341.1 L305.6,339.8 L306.0,338.6 L306.4,337.7 L306.8,336.8 L307.3,336.2 L307.7,335.6 L308.1,335.1 L308.5,334.8 L308.9,334.5 L309.4,334.3 L309.8,334.2 L310.2,334.1 L310.3,334.1" stroke="#000" stroke-width="2.4" fill="none" stroke-linejoin="round"/>
<circle cx="46.30" cy="432.6" r="3.4" fill="#000"/>
<circle cx="57.30" cy="360.1" r="3.4" fill="#000"/>
<circle cx="67.70" cy="360.1" r="3.4" fill="#000"/>
<circle cx="88.50" cy="391.5" r="3.4" fill="#000"/>
<circle cx="109.50" cy="392.4" r="3.4" fill="#000"/>
<circle cx="129.90" cy="404" r="3.4" fill="#000"/>
<circle cx="172.30" cy="419.4" r="3.4" fill="#000"/>
<circle cx="182.50" cy="357.4" r="3.4" fill="#000"/>
<circle cx="193.10" cy="347.8" r="3.4" fill="#000"/>
<circle cx="214.00" cy="363.2" r="3.4" fill="#000"/>
<circle cx="234.90" cy="401.8" r="3.4" fill="#000"/>
<circle cx="255.70" cy="408.2" r="3.4" fill="#000"/>
<circle cx="297.50" cy="426.5" r="3.4" fill="#000"/>
<line x1="34.20" y1="294.90" x2="34.20" y2="451.40" stroke="#858585" stroke-width="1.5" />
<line x1="33.50" y1="450.70" x2="310.30" y2="450.70" stroke="#858585" stroke-width="1.5" />
<line x1="31.70" y1="443.70" x2="34.20" y2="443.70" stroke="#8a8a8a" stroke-width="1" />
<text x="31.00" y="448.90" font-size="12.6" text-anchor="end" fill="#000" >0</text>
<line x1="31.70" y1="401.96" x2="34.20" y2="401.96" stroke="#8a8a8a" stroke-width="1" />
<text x="31.00" y="407.16" font-size="12.6" text-anchor="end" fill="#000" >5</text>
<line x1="31.70" y1="360.23" x2="34.20" y2="360.23" stroke="#8a8a8a" stroke-width="1" />
<text x="31.00" y="365.43" font-size="12.6" text-anchor="end" fill="#000" >10</text>
<line x1="31.70" y1="318.50" x2="34.20" y2="318.50" stroke="#8a8a8a" stroke-width="1" />
<text x="31.00" y="323.69" font-size="12.6" text-anchor="end" fill="#000" >15</text>
<line x1="46.30" y1="450.70" x2="46.30" y2="453.20" stroke="#8a8a8a" stroke-width="1" />
<text x="46.30" y="462.80" font-size="12.6" text-anchor="middle" fill="#000" >19:00</text>
<line x1="109.12" y1="450.70" x2="109.12" y2="453.20" stroke="#8a8a8a" stroke-width="1" />
<text x="109.12" y="462.80" font-size="12.6" text-anchor="middle" fill="#000" >01:00</text>
<line x1="171.94" y1="450.70" x2="171.94" y2="453.20" stroke="#8a8a8a" stroke-width="1" />
<text x="171.94" y="462.80" font-size="12.6" text-anchor="middle" fill="#000" >07:00</text>
<line x1="234.76" y1="450.70" x2="234.76" y2="453.20" stroke="#8a8a8a" stroke-width="1" />
<text x="234.76" y="462.80" font-size="12.6" text-anchor="middle" fill="#000" >13:00</text>
<line x1="297.58" y1="450.70" x2="297.58" y2="453.20" stroke="#8a8a8a" stroke-width="1" />
<text x="297.58" y="462.80" font-size="12.6" text-anchor="middle" fill="#000" >19:00</text>
<text x="171.94" y="477.00" font-size="12.6" text-anchor="middle" fill="#000" >Clock time (hours)</text>
<text transform="translate(11.60,373.60) rotate(-90)" font-size="12.4" text-anchor="middle" fill="#000">Metformin plasma (µmol/l)</text>
<rect x="399.10" y="294.90" width="125.64" height="155.80" fill="#e9e9e9" />
<rect x="650.38" y="294.90" width="12.62" height="155.80" fill="#e9e9e9" />
<path d="M386.9,421.5 L387.3,421.6 L387.7,421.7 L388.2,421.8 L388.6,421.9 L389.0,421.9 L389.4,422.0 L389.8,422.1 L390.3,422.2 L390.7,422.3 L391.1,422.4 L391.5,422.4 L391.9,422.5 L392.3,422.6 L392.8,422.7 L393.2,422.7 L393.6,422.8 L394.0,422.9 L394.4,422.9 L394.9,423.0 L395.3,423.1 L395.7,423.1 L396.1,423.2 L396.5,423.2 L397.0,423.3 L397.4,423.3 L397.8,423.4 L398.2,423.4 L398.6,423.5 L399.0,423.5 L399.1,423.8 L399.2,423.8 L399.3,423.8 L399.4,423.0 L399.5,422.4 L399.5,421.8 L399.6,420.5 L399.7,419.3 L399.8,418.2 L399.9,417.6 L399.9,417.0 L400.0,415.9 L400.1,414.8 L400.3,413.7 L400.3,413.1 L400.4,412.6 L400.5,411.5 L400.6,410.5 L400.7,409.5 L400.7,409.0 L400.8,408.5 L400.9,407.5 L401.0,406.6 L401.1,405.6 L401.1,405.2 L401.2,404.7 L401.3,403.8 L401.4,402.9 L401.5,402.0 L401.6,401.6 L401.6,401.2 L401.7,400.3 L401.8,399.5 L401.9,398.7 L402.0,398.3 L402.0,397.9 L402.1,397.1 L402.2,396.3 L402.3,395.6 L402.4,395.2 L402.5,394.9 L402.6,394.1 L402.7,393.4 L402.8,392.7 L402.8,392.4 L402.9,392.0 L403.0,391.4 L403.1,390.7 L403.2,390.1 L403.2,389.8 L403.3,389.4 L403.4,388.8 L403.5,388.2 L403.6,387.6 L403.7,387.3 L403.7,387.0 L403.8,386.5 L403.9,385.9 L404.0,385.4 L404.1,385.1 L404.1,384.8 L404.2,384.3 L404.5,383.0 L404.9,381.1 L405.3,379.3 L405.7,377.7 L406.2,376.2 L406.6,374.9 L407.0,373.6 L407.4,372.5 L407.8,371.4 L408.3,370.4 L408.7,369.6 L409.1,368.8 L409.5,368.1 L409.9,367.4 L410.4,366.8 L410.8,366.3 L411.2,365.9 L411.6,365.5 L412.0,365.1 L412.4,364.8 L412.9,364.5 L413.3,364.3 L413.7,364.1 L414.1,363.9 L414.5,363.8 L415.0,363.7 L415.4,363.7 L415.8,363.6 L416.2,363.6 L416.6,363.6 L417.1,363.6 L417.5,363.7 L417.9,363.8 L418.3,363.8 L418.7,363.9 L419.1,364.1 L419.6,364.2 L420.0,364.3 L420.4,364.5 L420.8,364.7 L421.2,364.8 L421.7,365.0 L422.1,365.2 L422.5,365.4 L422.9,365.6 L423.3,365.8 L423.8,366.1 L424.2,366.3 L424.6,366.5 L425.0,366.7 L425.4,367.0 L425.8,367.2 L426.3,367.5 L426.7,367.7 L427.1,368.0 L427.5,368.3 L427.9,368.5 L428.4,368.8 L428.8,369.0 L429.2,369.3 L429.6,369.6 L430.0,369.9 L430.5,370.1 L430.9,370.4 L431.3,370.7 L431.7,370.9 L432.1,371.2 L432.5,371.5 L433.0,371.8 L433.4,372.1 L433.8,372.3 L434.2,372.6 L434.6,372.9 L435.1,373.2 L435.5,373.4 L435.9,373.7 L436.3,374.0 L436.7,374.3 L437.2,374.5 L437.6,374.8 L438.0,375.1 L438.4,375.4 L438.8,375.7 L439.2,375.9 L439.7,376.2 L440.1,376.5 L440.5,376.7 L440.9,377.0 L441.3,377.3 L441.8,377.6 L442.2,377.8 L442.6,378.1 L443.0,378.4 L443.4,378.6 L443.9,378.9 L444.3,379.2 L444.7,379.4 L445.1,379.7 L445.5,380.0 L446.0,380.2 L446.4,380.5 L446.8,380.7 L447.2,381.0 L447.6,381.3 L448.0,381.5 L448.5,381.8 L448.9,382.0 L449.3,382.3 L449.7,382.5 L450.1,382.8 L450.6,383.0 L451.0,383.3 L451.4,383.5 L451.8,383.8 L452.2,384.0 L452.7,384.3 L453.1,384.5 L453.5,384.8 L453.9,385.0 L454.3,385.3 L454.7,385.5 L455.2,385.7 L455.6,386.0 L456.0,386.2 L456.4,386.5 L456.8,386.7 L457.3,386.9 L457.7,387.2 L458.1,387.4 L458.5,387.6 L458.9,387.9 L459.4,388.1 L459.8,388.3 L460.2,388.6 L460.6,388.8 L461.0,389.0 L461.4,389.2 L461.9,389.5 L462.3,389.7 L462.7,389.9 L463.1,390.1 L463.5,390.4 L464.0,390.6 L464.4,390.8 L464.8,391.0 L465.2,391.2 L465.6,391.5 L466.1,391.7 L466.5,391.9 L466.9,392.1 L467.3,392.3 L467.7,392.5 L468.1,392.8 L468.6,393.0 L469.0,393.2 L469.4,393.4 L469.8,393.6 L470.2,393.8 L470.7,394.0 L471.1,394.2 L471.5,394.4 L471.9,394.6 L472.3,394.8 L472.8,395.0 L473.2,395.2 L473.6,395.4 L474.0,395.6 L474.4,395.8 L474.8,396.0 L475.3,396.2 L475.7,396.4 L476.1,396.6 L476.5,396.8 L476.9,397.0 L477.4,397.2 L477.8,397.4 L478.2,397.6 L478.6,397.8 L479.0,398.0 L479.5,398.2 L479.9,398.4 L480.3,398.5 L480.7,398.7 L481.1,398.9 L481.5,399.1 L482.0,399.3 L482.4,399.5 L482.8,399.7 L483.2,399.8 L483.6,400.0 L484.1,400.2 L484.5,400.4 L484.9,400.6 L485.3,400.7 L485.7,400.9 L486.2,401.1 L486.6,401.3 L487.0,401.5 L487.4,401.6 L487.8,401.8 L488.2,402.0 L488.7,402.2 L489.1,402.3 L489.5,402.5 L489.9,402.7 L490.3,402.8 L490.8,403.0 L491.2,403.2 L491.6,403.3 L492.0,403.5 L492.4,403.7 L492.9,403.8 L493.3,404.0 L493.7,404.2 L494.1,404.3 L494.5,404.5 L495.0,404.7 L495.4,404.8 L495.8,405.0 L496.2,405.2 L496.6,405.3 L497.0,405.5 L497.5,405.6 L497.9,405.8 L498.3,405.9 L498.7,406.1 L499.1,406.3 L499.6,406.4 L500.0,406.6 L500.4,406.7 L500.8,406.9 L501.2,407.0 L501.7,407.2 L502.1,407.3 L502.5,407.5 L502.9,407.6 L503.3,407.8 L503.7,407.9 L504.2,408.1 L504.6,408.2 L505.0,408.4 L505.4,408.5 L505.8,408.7 L506.3,408.8 L506.7,409.0 L507.1,409.1 L507.5,409.2 L507.9,409.4 L508.4,409.5 L508.8,409.7 L509.2,409.8 L509.6,410.0 L510.0,410.1 L510.4,410.2 L510.9,410.4 L511.3,410.5 L511.7,410.7 L512.1,410.8 L512.5,410.9 L513.0,411.1 L513.4,411.2 L513.8,411.3 L514.2,411.5 L514.6,411.6 L515.1,411.7 L515.5,411.9 L515.9,412.0 L516.3,412.1 L516.7,412.3 L517.1,412.4 L517.6,412.5 L518.0,412.7 L518.4,412.8 L518.8,412.9 L519.2,413.0 L519.7,413.2 L520.1,413.3 L520.5,413.4 L520.9,413.5 L521.3,413.7 L521.8,413.8 L522.2,413.9 L522.6,414.0 L523.0,414.2 L523.4,414.3 L523.8,414.4 L524.3,414.5 L524.7,414.7 L524.7,414.1 L524.8,413.1 L524.9,411.8 L525.1,410.5 L525.1,409.9 L525.2,409.3 L525.3,408.1 L525.4,406.9 L525.5,405.7 L525.5,405.1 L525.6,404.5 L525.7,403.4 L525.8,402.3 L525.9,401.1 L525.9,400.6 L526.0,400.0 L526.1,399.0 L526.2,397.9 L526.3,396.8 L526.4,396.3 L526.4,395.8 L526.5,394.8 L526.6,393.8 L526.7,392.8 L526.8,392.3 L526.8,391.8 L526.9,390.9 L527.0,389.9 L527.1,389.0 L527.2,388.5 L527.3,388.1 L527.4,387.2 L527.5,386.3 L527.6,385.4 L527.6,385.0 L527.7,384.5 L527.8,383.7 L527.9,382.8 L528.0,382.0 L528.0,381.6 L528.1,381.2 L528.2,380.4 L528.3,379.6 L528.4,378.9 L528.5,378.5 L528.5,378.1 L528.6,377.3 L528.7,376.6 L528.8,375.9 L528.9,375.5 L528.9,375.2 L529.0,374.5 L529.1,373.8 L529.2,373.1 L529.3,372.8 L529.3,372.4 L529.5,371.8 L529.6,371.1 L529.7,370.5 L529.7,370.2 L529.8,369.8 L529.9,369.2 L530.1,367.7 L530.5,365.5 L531.0,363.3 L531.4,361.3 L531.8,359.5 L532.2,357.8 L532.6,356.1 L533.1,354.6 L533.5,353.3 L533.9,352.0 L534.3,350.8 L534.7,349.7 L535.2,348.7 L535.6,347.7 L536.0,346.9 L536.4,346.1 L536.8,345.4 L537.2,344.8 L537.7,344.2 L538.1,343.7 L538.5,343.3 L538.9,342.9 L539.3,342.6 L539.8,342.3 L540.2,342.0 L540.6,341.8 L541.0,341.7 L541.4,341.6 L541.9,341.5 L542.3,341.4 L542.7,341.4 L543.1,341.5 L543.5,341.5 L544.0,341.6 L544.4,341.7 L544.8,341.9 L545.2,342.1 L545.6,342.3 L546.0,342.5 L546.5,342.7 L546.9,343.0 L547.3,343.3 L547.7,343.6 L548.1,343.9 L548.6,344.2 L549.0,344.6 L549.4,344.9 L549.8,345.3 L550.2,345.7 L550.7,346.1 L551.1,346.5 L551.5,347.0 L551.9,347.4 L552.3,347.8 L552.7,348.3 L553.2,348.8 L553.6,349.2 L554.0,349.7 L554.4,350.2 L554.8,350.7 L555.3,351.2 L555.7,351.7 L556.1,352.3 L556.5,352.8 L556.9,353.3 L557.4,353.8 L557.8,354.4 L558.2,354.9 L558.6,355.4 L559.0,356.0 L559.4,356.5 L559.9,357.1 L560.3,357.6 L560.7,358.2 L561.1,358.8 L561.5,359.3 L562.0,359.9 L562.4,360.4 L562.8,361.0 L563.2,361.6 L563.6,362.1 L564.1,362.7 L564.5,363.2 L564.9,363.8 L565.3,364.4 L565.7,364.9 L566.1,365.5 L566.6,366.1 L567.0,366.6 L567.4,367.2 L567.8,367.8 L568.2,368.3 L568.7,368.9 L569.1,369.4 L569.5,370.0 L569.9,370.5 L570.3,371.1 L570.8,371.6 L571.2,372.2 L571.6,372.7 L572.0,373.3 L572.4,373.8 L572.8,374.4 L573.3,374.9 L573.7,375.4 L574.1,376.0 L574.5,376.5 L574.9,377.0 L575.4,377.6 L575.8,378.1 L576.2,378.6 L576.6,379.1 L577.0,379.6 L577.5,380.1 L577.9,380.7 L578.3,381.2 L578.7,381.7 L579.1,382.2 L579.5,382.7 L580.0,383.2 L580.4,383.6 L580.8,384.1 L581.2,384.6 L581.6,385.1 L582.1,385.6 L582.5,386.1 L582.9,386.5 L583.3,387.0 L583.7,387.5 L584.2,387.9 L584.6,388.4 L585.0,388.8 L585.4,389.3 L585.8,389.7 L586.2,390.2 L586.7,390.6 L587.1,391.1 L587.5,391.5 L587.9,391.9 L588.3,392.4 L588.8,392.8 L589.2,393.2 L589.6,393.6 L590.0,394.1 L590.4,394.5 L590.9,394.9 L591.3,395.3 L591.7,395.7 L592.1,396.1 L592.5,396.5 L592.9,396.9 L593.4,397.2 L593.8,397.6 L594.2,398.0 L594.6,398.4 L595.0,398.8 L595.5,399.1 L595.9,399.5 L596.3,399.9 L596.7,400.2 L597.1,400.6 L597.6,400.9 L598.0,401.3 L598.4,401.6 L598.8,402.0 L599.2,402.3 L599.7,402.6 L600.1,403.0 L600.5,403.3 L600.9,403.6 L601.3,404.0 L601.7,404.3 L602.2,404.6 L602.6,404.9 L603.0,405.2 L603.4,405.5 L603.8,405.8 L604.3,406.1 L604.7,406.4 L605.1,406.7 L605.5,407.0 L605.9,407.3 L606.4,407.6 L606.8,407.9 L607.2,408.2 L607.6,408.4 L608.0,408.7 L608.4,409.0 L608.9,409.2 L609.3,409.5 L609.7,409.8 L610.1,410.0 L610.5,410.3 L611.0,410.5 L611.4,410.8 L611.8,411.0 L612.2,411.3 L612.6,411.5 L613.1,411.7 L613.5,412.0 L613.9,412.2 L614.3,412.4 L614.7,412.7 L615.1,412.9 L615.6,413.1 L616.0,413.3 L616.4,413.5 L616.8,413.8 L617.2,414.0 L617.7,414.2 L618.1,414.4 L618.5,414.6 L618.9,414.8 L619.3,415.0 L619.8,415.2 L620.2,415.4 L620.6,415.6 L621.0,415.8 L621.4,415.9 L621.8,416.1 L622.3,416.3 L622.7,416.5 L623.1,416.7 L623.5,416.8 L623.9,417.0 L624.4,417.2 L624.8,417.3 L625.2,417.5 L625.6,417.7 L626.0,417.8 L626.5,418.0 L626.9,418.1 L627.3,418.3 L627.7,418.4 L628.1,418.6 L628.5,418.7 L629.0,418.9 L629.4,419.0 L629.8,419.1 L630.2,419.3 L630.6,419.4 L631.1,419.5 L631.5,419.7 L631.9,419.8 L632.3,419.9 L632.7,420.1 L633.2,420.2 L633.6,420.3 L634.0,420.4 L634.4,420.5 L634.8,420.6 L635.2,420.8 L635.7,420.9 L636.1,421.0 L636.5,421.1 L636.9,421.2 L637.3,421.3 L637.8,421.4 L638.2,421.5 L638.6,421.6 L639.0,421.7 L639.4,421.8 L639.9,421.9 L640.3,421.9 L640.7,422.0 L641.1,422.1 L641.5,422.2 L641.9,422.3 L642.4,422.4 L642.8,422.4 L643.2,422.5 L643.6,422.6 L644.0,422.7 L644.5,422.7 L644.9,422.8 L645.3,422.9 L645.7,422.9 L646.1,423.0 L646.6,423.1 L647.0,423.1 L647.4,423.2 L647.8,423.2 L648.2,423.3 L648.7,423.3 L649.1,423.4 L649.5,423.4 L649.9,423.5 L650.3,423.5 L650.4,423.8 L650.5,423.8 L650.6,423.8 L650.7,423.0 L650.7,422.4 L650.8,421.8 L650.9,420.5 L651.0,419.3 L651.1,418.2 L651.2,417.6 L651.2,417.0 L651.3,415.9 L651.4,414.8 L651.5,413.7 L651.6,413.1 L651.6,412.6 L651.7,411.5 L651.8,410.5 L652.0,409.5 L652.0,409.0 L652.1,408.5 L652.2,407.5 L652.3,406.6 L652.4,405.6 L652.4,405.2 L652.5,404.7 L652.6,403.8 L652.7,402.9 L652.8,402.0 L652.8,401.6 L652.9,401.2 L653.0,400.3 L653.1,399.5 L653.2,398.7 L653.3,398.3 L653.3,397.9 L653.4,397.1 L653.5,396.3 L653.6,395.6 L653.7,395.2 L653.7,394.9 L653.8,394.1 L653.9,393.4 L654.0,392.7 L654.1,392.4 L654.1,392.0 L654.3,391.4 L654.4,390.7 L654.5,390.1 L654.5,389.8 L654.6,389.4 L654.7,388.8 L654.8,388.2 L654.9,387.6 L654.9,387.3 L655.0,387.0 L655.1,386.5 L655.2,385.9 L655.3,385.4 L655.4,385.1 L655.4,384.8 L655.5,384.3 L655.8,383.0 L656.2,381.1 L656.6,379.3 L657.0,377.7 L657.4,376.2 L657.9,374.9 L658.3,373.6 L658.7,372.5 L659.1,371.4 L659.5,370.4 L660.0,369.6 L660.4,368.8 L660.8,368.1 L661.2,367.4 L661.6,366.8 L662.1,366.3 L662.5,365.9 L662.9,365.5 L663.0,365.4" stroke="#000" stroke-width="2.4" fill="none" stroke-linejoin="round"/>
<circle cx="399.00" cy="432.6" r="3.4" fill="#000"/>
<circle cx="410.00" cy="360.1" r="3.4" fill="#000"/>
<circle cx="420.40" cy="360.1" r="3.4" fill="#000"/>
<circle cx="441.20" cy="391.5" r="3.4" fill="#000"/>
<circle cx="462.20" cy="392.4" r="3.4" fill="#000"/>
<circle cx="482.60" cy="404" r="3.4" fill="#000"/>
<circle cx="525.00" cy="419.4" r="3.4" fill="#000"/>
<circle cx="535.20" cy="357.4" r="3.4" fill="#000"/>
<circle cx="545.80" cy="347.8" r="3.4" fill="#000"/>
<circle cx="566.70" cy="363.2" r="3.4" fill="#000"/>
<circle cx="587.60" cy="401.8" r="3.4" fill="#000"/>
<circle cx="608.40" cy="408.2" r="3.4" fill="#000"/>
<circle cx="650.20" cy="426.5" r="3.4" fill="#000"/>
<line x1="386.90" y1="294.90" x2="386.90" y2="451.40" stroke="#858585" stroke-width="1.5" />
<line x1="386.20" y1="450.70" x2="663.00" y2="450.70" stroke="#858585" stroke-width="1.5" />
<line x1="384.40" y1="443.70" x2="386.90" y2="443.70" stroke="#8a8a8a" stroke-width="1" />
<text x="383.70" y="448.90" font-size="12.6" text-anchor="end" fill="#000" >0</text>
<line x1="384.40" y1="401.96" x2="386.90" y2="401.96" stroke="#8a8a8a" stroke-width="1" />
<text x="383.70" y="407.16" font-size="12.6" text-anchor="end" fill="#000" >5</text>
<line x1="384.40" y1="360.23" x2="386.90" y2="360.23" stroke="#8a8a8a" stroke-width="1" />
<text x="383.70" y="365.43" font-size="12.6" text-anchor="end" fill="#000" >10</text>
<line x1="384.40" y1="318.50" x2="386.90" y2="318.50" stroke="#8a8a8a" stroke-width="1" />
<text x="383.70" y="323.69" font-size="12.6" text-anchor="end" fill="#000" >15</text>
<line x1="399.10" y1="450.70" x2="399.10" y2="453.20" stroke="#8a8a8a" stroke-width="1" />
<text x="399.10" y="462.80" font-size="12.6" text-anchor="middle" fill="#000" >19:00</text>
<line x1="461.92" y1="450.70" x2="461.92" y2="453.20" stroke="#8a8a8a" stroke-width="1" />
<text x="461.92" y="462.80" font-size="12.6" text-anchor="middle" fill="#000" >01:00</text>
<line x1="524.74" y1="450.70" x2="524.74" y2="453.20" stroke="#8a8a8a" stroke-width="1" />
<text x="524.74" y="462.80" font-size="12.6" text-anchor="middle" fill="#000" >07:00</text>
<line x1="587.56" y1="450.70" x2="587.56" y2="453.20" stroke="#8a8a8a" stroke-width="1" />
<text x="587.56" y="462.80" font-size="12.6" text-anchor="middle" fill="#000" >13:00</text>
<line x1="650.38" y1="450.70" x2="650.38" y2="453.20" stroke="#8a8a8a" stroke-width="1" />
<text x="650.38" y="462.80" font-size="12.6" text-anchor="middle" fill="#000" >19:00</text>
<text x="524.74" y="477.00" font-size="12.6" text-anchor="middle" fill="#000" >Clock time (hours)</text>
<text transform="translate(365.30,373.60) rotate(-90)" font-size="12.4" text-anchor="middle" fill="#000">Metformin plasma (µmol/l)</text>
<clipPath id="cs0"><rect x="41.6" y="581.7" width="268.5" height="273.5"/></clipPath>
<path d="M-15.94,913.01 L337.63,554.78" stroke="#111" stroke-width="1.25" fill="none" clip-path="url(#cs0)" />
<path d="M-15.94,882.15 L337.63,523.91" stroke="#5a5a5a" stroke-width="1.1" fill="none" clip-path="url(#cs0)" stroke-dasharray="1.5 1.4"/>
<path d="M-15.94,943.87 L337.63,585.64" stroke="#5a5a5a" stroke-width="1.1" fill="none" clip-path="url(#cs0)" stroke-dasharray="1.5 1.4"/>
<path d="M-15.94,817.15 L337.63,458.91" stroke="#111" stroke-width="1.4" fill="none" clip-path="url(#cs0)" stroke-dasharray="4 3"/>
<path d="M-15.94,1008.87 L337.63,650.64" stroke="#111" stroke-width="1.4" fill="none" clip-path="url(#cs0)" stroke-dasharray="4 3"/>
<path d="M137.40,740.00 L143.20,749.80 L131.60,749.80 Z" fill="#e3d5e7" fill-opacity="0.85" stroke="#4d4650" stroke-width="1.4" stroke-linejoin="round"/>
<path d="M146.50,740.00 L152.30,749.80 L140.70,749.80 Z" fill="#e3d5e7" fill-opacity="0.85" stroke="#4d4650" stroke-width="1.4" stroke-linejoin="round"/>
<path d="M152.10,740.00 L157.90,749.80 L146.30,749.80 Z" fill="#e3d5e7" fill-opacity="0.85" stroke="#4d4650" stroke-width="1.4" stroke-linejoin="round"/>
<path d="M186.30,740.00 L192.10,749.80 L180.50,749.80 Z" fill="#e3d5e7" fill-opacity="0.85" stroke="#4d4650" stroke-width="1.4" stroke-linejoin="round"/>
<path d="M204.00,740.00 L209.80,749.80 L198.20,749.80 Z" fill="#e3d5e7" fill-opacity="0.85" stroke="#4d4650" stroke-width="1.4" stroke-linejoin="round"/>
<path d="M207.50,740.00 L213.30,749.80 L201.70,749.80 Z" fill="#e3d5e7" fill-opacity="0.85" stroke="#4d4650" stroke-width="1.4" stroke-linejoin="round"/>
<path d="M218.00,740.00 L223.80,749.80 L212.20,749.80 Z" fill="#e3d5e7" fill-opacity="0.85" stroke="#4d4650" stroke-width="1.4" stroke-linejoin="round"/>
<path d="M223.90,740.00 L229.70,749.80 L218.10,749.80 Z" fill="#e3d5e7" fill-opacity="0.85" stroke="#4d4650" stroke-width="1.4" stroke-linejoin="round"/>
<path d="M232.00,740.00 L237.80,749.80 L226.20,749.80 Z" fill="#e3d5e7" fill-opacity="0.85" stroke="#4d4650" stroke-width="1.4" stroke-linejoin="round"/>
<path d="M242.00,740.00 L247.80,749.80 L236.20,749.80 Z" fill="#e3d5e7" fill-opacity="0.85" stroke="#4d4650" stroke-width="1.4" stroke-linejoin="round"/>
<path d="M160.70,690.40 L166.50,680.60 L154.90,680.60 Z" fill="#f8dcb4" fill-opacity="0.85" stroke="#4d4640" stroke-width="1.4" stroke-linejoin="round"/>
<path d="M196.90,688.00 L202.70,678.20 L191.10,678.20 Z" fill="#f8dcb4" fill-opacity="0.85" stroke="#4d4640" stroke-width="1.4" stroke-linejoin="round"/>
<path d="M178.30,712.60 L184.10,702.80 L172.50,702.80 Z" fill="#f8dcb4" fill-opacity="0.85" stroke="#4d4640" stroke-width="1.4" stroke-linejoin="round"/>
<path d="M114.50,726.10 L120.30,716.30 L108.70,716.30 Z" fill="#f8dcb4" fill-opacity="0.85" stroke="#4d4640" stroke-width="1.4" stroke-linejoin="round"/>
<path d="M141.60,729.40 L147.40,719.60 L135.80,719.60 Z" fill="#f8dcb4" fill-opacity="0.85" stroke="#4d4640" stroke-width="1.4" stroke-linejoin="round"/>
<path d="M175.90,732.40 L181.70,722.60 L170.10,722.60 Z" fill="#f8dcb4" fill-opacity="0.85" stroke="#4d4640" stroke-width="1.4" stroke-linejoin="round"/>
<path d="M137.80,751.70 L143.60,741.90 L132.00,741.90 Z" fill="#f8dcb4" fill-opacity="0.85" stroke="#4d4640" stroke-width="1.4" stroke-linejoin="round"/>
<path d="M158.30,751.70 L164.10,741.90 L152.50,741.90 Z" fill="#f8dcb4" fill-opacity="0.85" stroke="#4d4640" stroke-width="1.4" stroke-linejoin="round"/>
<path d="M163.50,751.70 L169.30,741.90 L157.70,741.90 Z" fill="#f8dcb4" fill-opacity="0.85" stroke="#4d4640" stroke-width="1.4" stroke-linejoin="round"/>
<path d="M171.70,751.70 L177.50,741.90 L165.90,741.90 Z" fill="#f8dcb4" fill-opacity="0.85" stroke="#4d4640" stroke-width="1.4" stroke-linejoin="round"/>
<path d="M179.30,751.70 L185.10,741.90 L173.50,741.90 Z" fill="#f8dcb4" fill-opacity="0.85" stroke="#4d4640" stroke-width="1.4" stroke-linejoin="round"/>
<path d="M182.20,748.70 L188.00,738.90 L176.40,738.90 Z" fill="#f8dcb4" fill-opacity="0.85" stroke="#4d4640" stroke-width="1.4" stroke-linejoin="round"/>
<path d="M199.80,751.70 L205.60,741.90 L194.00,741.90 Z" fill="#f8dcb4" fill-opacity="0.85" stroke="#4d4640" stroke-width="1.4" stroke-linejoin="round"/>
<rect x="41.6" y="581.7" width="268.5" height="273.5" fill="none" stroke="#8a8a8a" stroke-width="1.1"/>
<line x1="39.80" y1="842.36" x2="43.10" y2="842.36" stroke="#888" stroke-width="1" />
<text x="39.10" y="846.86" font-size="12.8" text-anchor="end" fill="#000" >0.5</text>
<line x1="53.79" y1="853.70" x2="53.79" y2="857.00" stroke="#888" stroke-width="1" />
<text x="53.79" y="867.20" font-size="12.8" text-anchor="middle" fill="#000" >0.5</text>
<line x1="39.80" y1="746.50" x2="43.10" y2="746.50" stroke="#888" stroke-width="1" />
<text x="39.10" y="751.00" font-size="12.8" text-anchor="end" fill="#000" >1</text>
<line x1="148.40" y1="853.70" x2="148.40" y2="857.00" stroke="#888" stroke-width="1" />
<text x="148.40" y="867.20" font-size="12.8" text-anchor="middle" fill="#000" >1</text>
<line x1="39.80" y1="650.64" x2="43.10" y2="650.64" stroke="#888" stroke-width="1" />
<text x="39.10" y="655.14" font-size="12.8" text-anchor="end" fill="#000" >2</text>
<line x1="243.01" y1="853.70" x2="243.01" y2="857.00" stroke="#888" stroke-width="1" />
<text x="243.01" y="867.20" font-size="12.8" text-anchor="middle" fill="#000" >2</text>
<line x1="39.80" y1="594.56" x2="43.10" y2="594.56" stroke="#888" stroke-width="1" />
<text x="39.10" y="599.06" font-size="12.8" text-anchor="end" fill="#000" >3</text>
<line x1="298.36" y1="853.70" x2="298.36" y2="857.00" stroke="#888" stroke-width="1" />
<text x="298.36" y="867.20" font-size="12.8" text-anchor="middle" fill="#000" >3</text>
<line x1="41.60" y1="817.15" x2="43.10" y2="817.15" stroke="#888" stroke-width="1" />
<line x1="78.67" y1="853.70" x2="78.67" y2="855.20" stroke="#888" stroke-width="1" />
<line x1="41.60" y1="795.83" x2="43.10" y2="795.83" stroke="#888" stroke-width="1" />
<line x1="99.71" y1="853.70" x2="99.71" y2="855.20" stroke="#888" stroke-width="1" />
<line x1="41.60" y1="777.36" x2="43.10" y2="777.36" stroke="#888" stroke-width="1" />
<line x1="117.94" y1="853.70" x2="117.94" y2="855.20" stroke="#888" stroke-width="1" />
<line x1="41.60" y1="761.07" x2="43.10" y2="761.07" stroke="#888" stroke-width="1" />
<line x1="134.02" y1="853.70" x2="134.02" y2="855.20" stroke="#888" stroke-width="1" />
<text x="176.60" y="881.8" font-size="12.45" text-anchor="middle">Observed C<tspan font-size="9" dy="2.6">trough</tspan><tspan dy="-2.6">&#160; or C</tspan><tspan font-size="9" dy="2.6">max</tspan><tspan dy="-2.6"> ratio</tspan></text>
<text transform="translate(10.60,717.5) rotate(-90)" font-size="12.45" text-anchor="middle">Predicted C<tspan font-size="9" dy="2.6">trough</tspan><tspan dy="-2.6">&#160; or C</tspan><tspan font-size="9" dy="2.6">max</tspan><tspan dy="-2.6"> ratio</tspan></text>
<path d="M53.80,591.30 L59.60,601.10 L48.00,601.10 Z" fill="#e3d5e7" fill-opacity="0.85" stroke="#4d4650" stroke-width="1.4" stroke-linejoin="round"/>
<path d="M53.80,618.70 L59.60,608.90 L48.00,608.90 Z" fill="#f8dcb4" fill-opacity="0.85" stroke="#4d4640" stroke-width="1.4" stroke-linejoin="round"/>
<text x="67.5" y="600.2" font-size="12.6">C<tspan font-size="9" dy="2.6">trough</tspan><tspan dy="-2.6"> ratio</tspan></text>
<text x="67.5" y="617.2" font-size="12.6">C<tspan font-size="9" dy="2.6">max</tspan><tspan dy="-2.6"> ratio</tspan></text>
<clipPath id="cs353"><rect x="395.20000000000005" y="581.7" width="268.5" height="273.5"/></clipPath>
<path d="M337.66,913.01 L691.23,554.78" stroke="#111" stroke-width="1.25" fill="none" clip-path="url(#cs353)" />
<path d="M337.66,882.15 L691.23,523.91" stroke="#5a5a5a" stroke-width="1.1" fill="none" clip-path="url(#cs353)" stroke-dasharray="1.5 1.4"/>
<path d="M337.66,943.87 L691.23,585.64" stroke="#5a5a5a" stroke-width="1.1" fill="none" clip-path="url(#cs353)" stroke-dasharray="1.5 1.4"/>
<path d="M337.66,817.15 L691.23,458.91" stroke="#111" stroke-width="1.4" fill="none" clip-path="url(#cs353)" stroke-dasharray="4 3"/>
<path d="M337.66,1008.87 L691.23,650.64" stroke="#111" stroke-width="1.4" fill="none" clip-path="url(#cs353)" stroke-dasharray="4 3"/>
<path d="M490.00,689.70 L495.80,699.50 L484.20,699.50 Z" fill="#e3d5e7" fill-opacity="0.85" stroke="#4d4650" stroke-width="1.4" stroke-linejoin="round"/>
<path d="M499.40,682.70 L505.20,692.50 L493.60,692.50 Z" fill="#e3d5e7" fill-opacity="0.85" stroke="#4d4650" stroke-width="1.4" stroke-linejoin="round"/>
<path d="M505.20,693.20 L511.00,703.00 L499.40,703.00 Z" fill="#e3d5e7" fill-opacity="0.85" stroke="#4d4650" stroke-width="1.4" stroke-linejoin="round"/>
<path d="M532.10,685.50 L537.90,695.30 L526.30,695.30 Z" fill="#e3d5e7" fill-opacity="0.85" stroke="#4d4650" stroke-width="1.4" stroke-linejoin="round"/>
<path d="M536.80,686.70 L542.60,696.50 L531.00,696.50 Z" fill="#e3d5e7" fill-opacity="0.85" stroke="#4d4650" stroke-width="1.4" stroke-linejoin="round"/>
<path d="M557.80,686.70 L563.60,696.50 L552.00,696.50 Z" fill="#e3d5e7" fill-opacity="0.85" stroke="#4d4650" stroke-width="1.4" stroke-linejoin="round"/>
<path d="M561.30,685.00 L567.10,694.80 L555.50,694.80 Z" fill="#e3d5e7" fill-opacity="0.85" stroke="#4d4650" stroke-width="1.4" stroke-linejoin="round"/>
<path d="M571.30,678.50 L577.10,688.30 L565.50,688.30 Z" fill="#e3d5e7" fill-opacity="0.85" stroke="#4d4650" stroke-width="1.4" stroke-linejoin="round"/>
<path d="M576.50,687.40 L582.30,697.20 L570.70,697.20 Z" fill="#e3d5e7" fill-opacity="0.85" stroke="#4d4650" stroke-width="1.4" stroke-linejoin="round"/>
<path d="M585.80,687.40 L591.60,697.20 L580.00,697.20 Z" fill="#e3d5e7" fill-opacity="0.85" stroke="#4d4650" stroke-width="1.4" stroke-linejoin="round"/>
<path d="M587.00,686.70 L592.80,696.50 L581.20,696.50 Z" fill="#e3d5e7" fill-opacity="0.85" stroke="#4d4650" stroke-width="1.4" stroke-linejoin="round"/>
<path d="M595.20,694.80 L601.00,704.60 L589.40,704.60 Z" fill="#e3d5e7" fill-opacity="0.85" stroke="#4d4650" stroke-width="1.4" stroke-linejoin="round"/>
<path d="M467.80,707.60 L473.60,697.80 L462.00,697.80 Z" fill="#f8dcb4" fill-opacity="0.85" stroke="#4d4640" stroke-width="1.4" stroke-linejoin="round"/>
<path d="M513.90,692.90 L519.70,683.10 L508.10,683.10 Z" fill="#f8dcb4" fill-opacity="0.85" stroke="#4d4640" stroke-width="1.4" stroke-linejoin="round"/>
<path d="M530.90,687.20 L536.70,677.40 L525.10,677.40 Z" fill="#f8dcb4" fill-opacity="0.85" stroke="#4d4640" stroke-width="1.4" stroke-linejoin="round"/>
<path d="M550.30,680.70 L556.10,670.90 L544.50,670.90 Z" fill="#f8dcb4" fill-opacity="0.85" stroke="#4d4640" stroke-width="1.4" stroke-linejoin="round"/>
<path d="M494.70,715.70 L500.50,705.90 L488.90,705.90 Z" fill="#f8dcb4" fill-opacity="0.85" stroke="#4d4640" stroke-width="1.4" stroke-linejoin="round"/>
<path d="M491.20,727.40 L497.00,717.60 L485.40,717.60 Z" fill="#f8dcb4" fill-opacity="0.85" stroke="#4d4640" stroke-width="1.4" stroke-linejoin="round"/>
<path d="M515.30,718.10 L521.10,708.30 L509.50,708.30 Z" fill="#f8dcb4" fill-opacity="0.85" stroke="#4d4640" stroke-width="1.4" stroke-linejoin="round"/>
<path d="M523.90,716.50 L529.70,706.70 L518.10,706.70 Z" fill="#f8dcb4" fill-opacity="0.85" stroke="#4d4640" stroke-width="1.4" stroke-linejoin="round"/>
<path d="M510.60,729.80 L516.40,720.00 L504.80,720.00 Z" fill="#f8dcb4" fill-opacity="0.85" stroke="#4d4640" stroke-width="1.4" stroke-linejoin="round"/>
<path d="M517.60,730.50 L523.40,720.70 L511.80,720.70 Z" fill="#f8dcb4" fill-opacity="0.85" stroke="#4d4640" stroke-width="1.4" stroke-linejoin="round"/>
<path d="M530.90,722.80 L536.70,713.00 L525.10,713.00 Z" fill="#f8dcb4" fill-opacity="0.85" stroke="#4d4640" stroke-width="1.4" stroke-linejoin="round"/>
<path d="M535.60,724.40 L541.40,714.60 L529.80,714.60 Z" fill="#f8dcb4" fill-opacity="0.85" stroke="#4d4640" stroke-width="1.4" stroke-linejoin="round"/>
<path d="M533.30,726.20 L539.10,716.40 L527.50,716.40 Z" fill="#f8dcb4" fill-opacity="0.85" stroke="#4d4640" stroke-width="1.4" stroke-linejoin="round"/>
<path d="M554.30,736.10 L560.10,726.30 L548.50,726.30 Z" fill="#f8dcb4" fill-opacity="0.85" stroke="#4d4640" stroke-width="1.4" stroke-linejoin="round"/>
<rect x="395.20000000000005" y="581.7" width="268.5" height="273.5" fill="none" stroke="#8a8a8a" stroke-width="1.1"/>
<line x1="393.40" y1="842.36" x2="396.70" y2="842.36" stroke="#888" stroke-width="1" />
<text x="392.70" y="846.86" font-size="12.8" text-anchor="end" fill="#000" >0.5</text>
<line x1="407.39" y1="853.70" x2="407.39" y2="857.00" stroke="#888" stroke-width="1" />
<text x="407.39" y="867.20" font-size="12.8" text-anchor="middle" fill="#000" >0.5</text>
<line x1="393.40" y1="746.50" x2="396.70" y2="746.50" stroke="#888" stroke-width="1" />
<text x="392.70" y="751.00" font-size="12.8" text-anchor="end" fill="#000" >1</text>
<line x1="502.00" y1="853.70" x2="502.00" y2="857.00" stroke="#888" stroke-width="1" />
<text x="502.00" y="867.20" font-size="12.8" text-anchor="middle" fill="#000" >1</text>
<line x1="393.40" y1="650.64" x2="396.70" y2="650.64" stroke="#888" stroke-width="1" />
<text x="392.70" y="655.14" font-size="12.8" text-anchor="end" fill="#000" >2</text>
<line x1="596.61" y1="853.70" x2="596.61" y2="857.00" stroke="#888" stroke-width="1" />
<text x="596.61" y="867.20" font-size="12.8" text-anchor="middle" fill="#000" >2</text>
<line x1="393.40" y1="594.56" x2="396.70" y2="594.56" stroke="#888" stroke-width="1" />
<text x="392.70" y="599.06" font-size="12.8" text-anchor="end" fill="#000" >3</text>
<line x1="651.96" y1="853.70" x2="651.96" y2="857.00" stroke="#888" stroke-width="1" />
<text x="651.96" y="867.20" font-size="12.8" text-anchor="middle" fill="#000" >3</text>
<line x1="395.20" y1="817.15" x2="396.70" y2="817.15" stroke="#888" stroke-width="1" />
<line x1="432.27" y1="853.70" x2="432.27" y2="855.20" stroke="#888" stroke-width="1" />
<line x1="395.20" y1="795.83" x2="396.70" y2="795.83" stroke="#888" stroke-width="1" />
<line x1="453.31" y1="853.70" x2="453.31" y2="855.20" stroke="#888" stroke-width="1" />
<line x1="395.20" y1="777.36" x2="396.70" y2="777.36" stroke="#888" stroke-width="1" />
<line x1="471.54" y1="853.70" x2="471.54" y2="855.20" stroke="#888" stroke-width="1" />
<line x1="395.20" y1="761.07" x2="396.70" y2="761.07" stroke="#888" stroke-width="1" />
<line x1="487.62" y1="853.70" x2="487.62" y2="855.20" stroke="#888" stroke-width="1" />
<text x="530.20" y="881.8" font-size="12.45" text-anchor="middle">Observed C<tspan font-size="9" dy="2.6">trough</tspan><tspan dy="-2.6">&#160; or C</tspan><tspan font-size="9" dy="2.6">max</tspan><tspan dy="-2.6"> ratio</tspan></text>
<text transform="translate(364.20,717.5) rotate(-90)" font-size="12.45" text-anchor="middle">Predicted C<tspan font-size="9" dy="2.6">trough</tspan><tspan dy="-2.6">&#160; or C</tspan><tspan font-size="9" dy="2.6">max</tspan><tspan dy="-2.6"> ratio</tspan></text>
<path d="M178.7,506.3 L455.3,506.3 L455.3,490.9 L504.3,529.8 L455.3,568.8 L455.3,553.4 L178.7,553.4 Z" stroke="none" stroke-width="0" fill="#a6a6a6" />
<rect x="242.60" y="466.70" width="184.10" height="152.00" fill="#fff" stroke="#a8a8a8" stroke-width="3.5"/>
<rect x="279.50" y="472.30" width="10.90" height="118.20" fill="#e9e9e9" />
<rect x="350.40" y="472.30" width="60.00" height="118.20" fill="#e9e9e9" />
<path d="M279.5,572.0 L279.8,572.1 L280.0,572.2 L280.2,572.3 L280.5,572.3 L280.8,572.4 L281.0,572.5 L281.2,572.5 L281.5,572.6 L281.8,572.6 L282.0,572.7 L282.2,572.7 L282.5,572.7 L282.8,572.8 L283.0,572.8 L283.2,572.8 L283.5,572.8 L283.8,572.8 L284.0,572.8 L284.2,572.8 L284.5,572.8 L284.8,572.8 L285.0,572.8 L285.2,572.8 L285.5,572.7 L285.8,572.7 L286.0,572.7 L286.2,572.6 L286.5,572.6 L286.8,572.5 L287.0,572.5 L287.2,572.4 L287.5,572.3 L287.8,572.3 L288.0,572.2 L288.2,572.1 L288.5,572.0 L288.7,571.9 L289.0,571.8 L289.2,571.7 L289.5,571.6 L289.7,571.5 L290.0,571.4 L290.2,571.2 L290.5,571.1 L290.7,571.0 L291.0,570.8 L291.2,570.7 L291.5,570.5 L291.7,570.4 L292.0,570.2 L292.2,570.1 L292.5,569.9 L292.7,569.7 L293.0,569.5 L293.2,569.4 L293.5,569.2 L293.7,569.0 L294.0,568.8 L294.2,568.6 L294.5,568.4 L294.7,568.2 L295.0,568.0 L295.2,567.7 L295.5,567.5 L295.7,567.3 L296.0,567.1 L296.2,566.8 L296.5,566.6 L296.7,566.3 L297.0,566.1 L297.2,565.8 L297.5,565.6 L297.7,565.3 L298.0,565.1 L298.2,564.8 L298.5,564.5 L298.7,564.3 L299.0,564.0 L299.2,563.7 L299.5,563.4 L299.7,563.1 L300.0,562.8 L300.2,562.5 L300.5,562.2 L300.7,561.9 L301.0,561.6 L301.2,561.3 L301.5,561.0 L301.7,560.7 L302.0,560.4 L302.2,560.0 L302.5,559.7 L302.7,559.4 L303.0,559.1 L303.2,558.7 L303.5,558.4 L303.7,558.1 L304.0,557.7 L304.2,557.4 L304.5,557.0 L304.7,556.7 L305.0,556.3 L305.2,556.0 L305.5,555.6 L305.7,555.3 L306.0,554.9 L306.2,554.5 L306.5,554.2 L306.7,553.8 L307.0,553.4 L307.2,553.1 L307.5,552.7 L307.7,552.3 L308.0,551.9 L308.2,551.6 L308.5,551.2 L308.7,550.8 L309.0,550.4 L309.2,550.0 L309.5,549.7 L309.7,549.3 L310.0,548.9 L310.2,548.5 L310.5,548.1 L310.7,547.7 L311.0,547.3 L311.2,546.9 L311.5,546.6 L311.7,546.2 L312.0,545.8 L312.2,545.4 L312.5,545.0 L312.7,544.6 L313.0,544.2 L313.2,543.8 L313.5,543.4 L313.7,543.0 L314.0,542.6 L314.2,542.2 L314.5,541.8 L314.7,541.4 L315.0,541.0 L315.2,540.6 L315.5,540.2 L315.7,539.9 L316.0,539.5 L316.2,539.1 L316.5,538.7 L316.7,538.3 L317.0,537.9 L317.2,537.5 L317.5,537.1 L317.7,536.7 L318.0,536.3 L318.2,535.9 L318.5,535.6 L318.7,535.2 L319.0,534.8 L319.2,534.4 L319.5,534.0 L319.7,533.7 L320.0,533.3 L320.2,532.9 L320.5,532.5 L320.7,532.2 L321.0,531.8 L321.2,531.4 L321.5,531.1 L321.7,530.7 L322.0,530.3 L322.2,530.0 L322.5,529.6 L322.7,529.3 L323.0,528.9 L323.2,528.6 L323.5,528.2 L323.7,527.9 L324.0,527.5 L324.2,527.2 L324.5,526.8 L324.7,526.5 L325.0,526.2 L325.2,525.8 L325.5,525.5 L325.7,525.2 L326.0,524.9 L326.2,524.6 L326.5,524.2 L326.7,523.9 L327.0,523.6 L327.2,523.3 L327.5,523.0 L327.7,522.7 L328.0,522.4 L328.2,522.1 L328.5,521.8 L328.7,521.5 L329.0,521.3 L329.2,521.0 L329.5,520.7 L329.7,520.4 L330.0,520.2 L330.2,519.9 L330.5,519.7 L330.7,519.4 L331.0,519.2 L331.2,518.9 L331.5,518.7 L331.7,518.4 L332.0,518.2 L332.2,518.0 L332.5,517.7 L332.7,517.5 L333.0,517.3 L333.2,517.1 L333.5,516.9 L333.7,516.7 L334.0,516.5 L334.2,516.3 L334.5,516.1 L334.7,515.9 L335.0,515.7 L335.2,515.5 L335.5,515.4 L335.7,515.2 L336.0,515.0 L336.2,514.9 L336.5,514.7 L336.7,514.6 L337.0,514.4 L337.2,514.3 L337.5,514.2 L337.7,514.0 L338.0,513.9 L338.2,513.8 L338.5,513.7 L338.7,513.6 L339.0,513.5 L339.2,513.4 L339.5,513.3 L339.7,513.2 L340.0,513.1 L340.2,513.0 L340.5,512.9 L340.7,512.9 L341.0,512.8 L341.2,512.8 L341.5,512.7 L341.7,512.6 L342.0,512.6 L342.2,512.6 L342.5,512.5 L342.7,512.5 L343.0,512.5 L343.2,512.5 L343.5,512.5 L343.7,512.4 L344.0,512.4 L344.2,512.4 L344.5,512.5 L344.7,512.5 L345.0,512.5 L345.2,512.5 L345.5,512.5 L345.7,512.6 L346.0,512.6 L346.2,512.7 L346.5,512.7 L346.7,512.8 L347.0,512.8 L347.2,512.9 L347.5,513.0 L347.7,513.0 L348.0,513.1 L348.2,513.2 L348.5,513.3 L348.7,513.4 L349.0,513.5 L349.2,513.6 L349.5,513.7 L349.7,513.8 L350.0,513.9 L350.2,514.1 L350.5,514.2 L350.7,514.3 L351.0,514.5 L351.2,514.6 L351.5,514.8 L351.7,514.9 L352.0,515.1 L352.2,515.2 L352.5,515.4 L352.7,515.6 L353.0,515.7 L353.2,515.9 L353.5,516.1 L353.7,516.3 L354.0,516.5 L354.2,516.7 L354.5,516.9 L354.7,517.1 L355.0,517.3 L355.2,517.5 L355.5,517.8 L355.7,518.0 L356.0,518.2 L356.2,518.5 L356.5,518.7 L356.7,518.9 L357.0,519.2 L357.2,519.4 L357.5,519.7 L357.7,520.0 L358.0,520.2 L358.2,520.5 L358.5,520.8 L358.7,521.0 L359.0,521.3 L359.2,521.6 L359.5,521.9 L359.7,522.2 L360.0,522.5 L360.2,522.7 L360.5,523.0 L360.7,523.4 L361.0,523.7 L361.2,524.0 L361.5,524.3 L361.7,524.6 L362.0,524.9 L362.2,525.2 L362.5,525.6 L362.7,525.9 L363.0,526.2 L363.2,526.5 L363.5,526.9 L363.7,527.2 L364.0,527.6 L364.2,527.9 L364.5,528.3 L364.7,528.6 L365.0,529.0 L365.2,529.3 L365.5,529.7 L365.7,530.0 L366.0,530.4 L366.2,530.7 L366.5,531.1 L366.7,531.5 L367.0,531.8 L367.2,532.2 L367.5,532.6 L367.7,533.0 L368.0,533.3 L368.2,533.7 L368.5,534.1 L368.7,534.5 L369.0,534.8 L369.2,535.2 L369.5,535.6 L369.7,536.0 L370.0,536.4 L370.2,536.8 L370.5,537.2 L370.7,537.6 L371.0,537.9 L371.2,538.3 L371.5,538.7 L371.7,539.1 L372.0,539.5 L372.2,539.9 L372.5,540.3 L372.7,540.7 L373.0,541.1 L373.2,541.5 L373.5,541.9 L373.7,542.3 L374.0,542.7 L374.2,543.1 L374.5,543.5 L374.7,543.9 L375.0,544.2 L375.2,544.6 L375.5,545.0 L375.7,545.4 L376.0,545.8 L376.2,546.2 L376.5,546.6 L376.7,547.0 L377.0,547.4 L377.2,547.8 L377.5,548.2 L377.7,548.6 L378.0,548.9 L378.2,549.3 L378.5,549.7 L378.7,550.1 L379.0,550.5 L379.2,550.9 L379.5,551.2 L379.7,551.6 L380.0,552.0 L380.2,552.4 L380.5,552.7 L380.7,553.1 L381.0,553.5 L381.2,553.9 L381.5,554.2 L381.7,554.6 L382.0,554.9 L382.2,555.3 L382.5,555.7 L382.7,556.0 L383.0,556.4 L383.2,556.7 L383.5,557.1 L383.7,557.4 L384.0,557.8 L384.2,558.1 L384.5,558.4 L384.7,558.8 L385.0,559.1 L385.2,559.4 L385.5,559.8 L385.7,560.1 L386.0,560.4 L386.2,560.7 L386.5,561.0 L386.7,561.4 L387.0,561.7 L387.2,562.0 L387.5,562.3 L387.7,562.6 L388.0,562.9 L388.2,563.2 L388.5,563.4 L388.7,563.7 L389.0,564.0 L389.2,564.3 L389.5,564.6 L389.7,564.8 L390.0,565.1 L390.2,565.4 L390.5,565.6 L390.7,565.9 L391.0,566.1 L391.2,566.4 L391.5,566.6 L391.7,566.9 L392.0,567.1 L392.2,567.3 L392.5,567.5 L392.7,567.8 L393.0,568.0 L393.2,568.2 L393.5,568.4 L393.7,568.6 L394.0,568.8 L394.2,569.0 L394.5,569.2 L394.7,569.4 L395.0,569.6 L395.2,569.7 L395.5,569.9 L395.7,570.1 L396.0,570.2 L396.2,570.4 L396.5,570.5 L396.7,570.7 L397.0,570.8 L397.2,571.0 L397.5,571.1 L397.7,571.2 L398.0,571.4 L398.2,571.5 L398.5,571.6 L398.7,571.7 L399.0,571.8 L399.2,571.9 L399.5,572.0 L399.7,572.1 L400.0,572.2 L400.2,572.3 L400.5,572.3 L400.7,572.4 L401.0,572.5 L401.2,572.5 L401.5,572.6 L401.7,572.6 L402.0,572.7 L402.2,572.7 L402.5,572.7 L402.7,572.8 L403.0,572.8 L403.2,572.8 L403.5,572.8 L403.7,572.8 L404.0,572.8 L404.2,572.8 L404.5,572.8 L404.7,572.8 L405.0,572.8 L405.2,572.8 L405.5,572.7 L405.7,572.7 L406.0,572.7 L406.2,572.6 L406.5,572.6 L406.7,572.5 L407.0,572.5 L407.2,572.4 L407.5,572.3 L407.7,572.3 L408.0,572.2 L408.2,572.1 L408.5,572.0 L408.7,571.9 L409.0,571.8 L409.2,571.7 L409.5,571.6 L409.7,571.5 L410.0,571.4 L410.2,571.2 L410.5,571.1 L410.7,571.0 L411.0,570.8 L411.2,570.7 L411.5,570.5 L411.7,570.4 L412.0,570.2 L412.2,570.1 L412.5,569.9 L412.7,569.7 L413.0,569.5 L413.2,569.4 L413.5,569.2 L413.7,569.0 L414.0,568.8 L414.2,568.6 L414.5,568.4 L414.7,568.2 L415.0,568.0 L415.2,567.7 L415.5,567.5 L415.7,567.3 L416.0,567.1 L416.2,566.8 L416.5,566.6 L416.7,566.3 L417.0,566.1 L417.2,565.8 L417.5,565.6 L417.7,565.3 L418.0,565.1 L418.2,564.8 L418.5,564.5 L418.7,564.3 L419.0,564.0 L419.2,563.7 L419.5,563.4 L419.7,563.1 L420.0,562.8 L420.2,562.5 L420.5,562.2 L420.7,561.9 L421.0,561.6 L421.2,561.3 L421.5,561.0" stroke="#ef6548" stroke-width="2.4" fill="none" />
<line x1="279.50" y1="472.30" x2="279.50" y2="591.00" stroke="#3c3c3c" stroke-width="1.0" />
<line x1="279.00" y1="590.50" x2="421.60" y2="590.50" stroke="#3c3c3c" stroke-width="1.0" />
<line x1="277.50" y1="571.40" x2="279.50" y2="571.40" stroke="#8a8a8a" stroke-width="0.8" />
<text x="277.00" y="574.80" font-size="9.4" text-anchor="end" fill="#000" >80</text>
<line x1="277.50" y1="542.64" x2="279.50" y2="542.64" stroke="#8a8a8a" stroke-width="0.8" />
<text x="277.00" y="546.04" font-size="9.4" text-anchor="end" fill="#000" >100</text>
<line x1="277.50" y1="513.88" x2="279.50" y2="513.88" stroke="#8a8a8a" stroke-width="0.8" />
<text x="277.00" y="517.28" font-size="9.4" text-anchor="end" fill="#000" >120</text>
<line x1="277.50" y1="485.12" x2="279.50" y2="485.12" stroke="#8a8a8a" stroke-width="0.8" />
<text x="277.00" y="488.52" font-size="9.4" text-anchor="end" fill="#000" >140</text>
<line x1="290.40" y1="590.50" x2="290.40" y2="592.50" stroke="#8a8a8a" stroke-width="0.8" />
<text x="290.40" y="600.10" font-size="9.4" text-anchor="middle" fill="#000" >07:00</text>
<line x1="320.40" y1="590.50" x2="320.40" y2="592.50" stroke="#8a8a8a" stroke-width="0.8" />
<text x="320.40" y="600.10" font-size="9.4" text-anchor="middle" fill="#000" >13:00</text>
<line x1="350.40" y1="590.50" x2="350.40" y2="592.50" stroke="#8a8a8a" stroke-width="0.8" />
<text x="350.40" y="600.10" font-size="9.4" text-anchor="middle" fill="#000" >19:00</text>
<line x1="380.40" y1="590.50" x2="380.40" y2="592.50" stroke="#8a8a8a" stroke-width="0.8" />
<text x="380.40" y="600.10" font-size="9.4" text-anchor="middle" fill="#000" >01:00</text>
<line x1="410.40" y1="590.50" x2="410.40" y2="592.50" stroke="#8a8a8a" stroke-width="0.8" />
<text x="410.40" y="600.10" font-size="9.4" text-anchor="middle" fill="#000" >07:00</text>
<text x="350.30" y="610.80" font-size="9.6" text-anchor="middle" fill="#000" >Clock time (hours)</text>
<text transform="translate(256.80,531.50) rotate(-90)" font-size="9.7" text-anchor="middle" fill="#000">Relative renal clearance (%)</text>
<text x="314.50" y="487.70" font-size="9.7" text-anchor="start" fill="#000" >Amplitude: 21%</text>
<text x="314.50" y="496.90" font-size="9.7" text-anchor="start" fill="#000" >Acrophase: 17:43 hours</text>
</svg></body></html>
